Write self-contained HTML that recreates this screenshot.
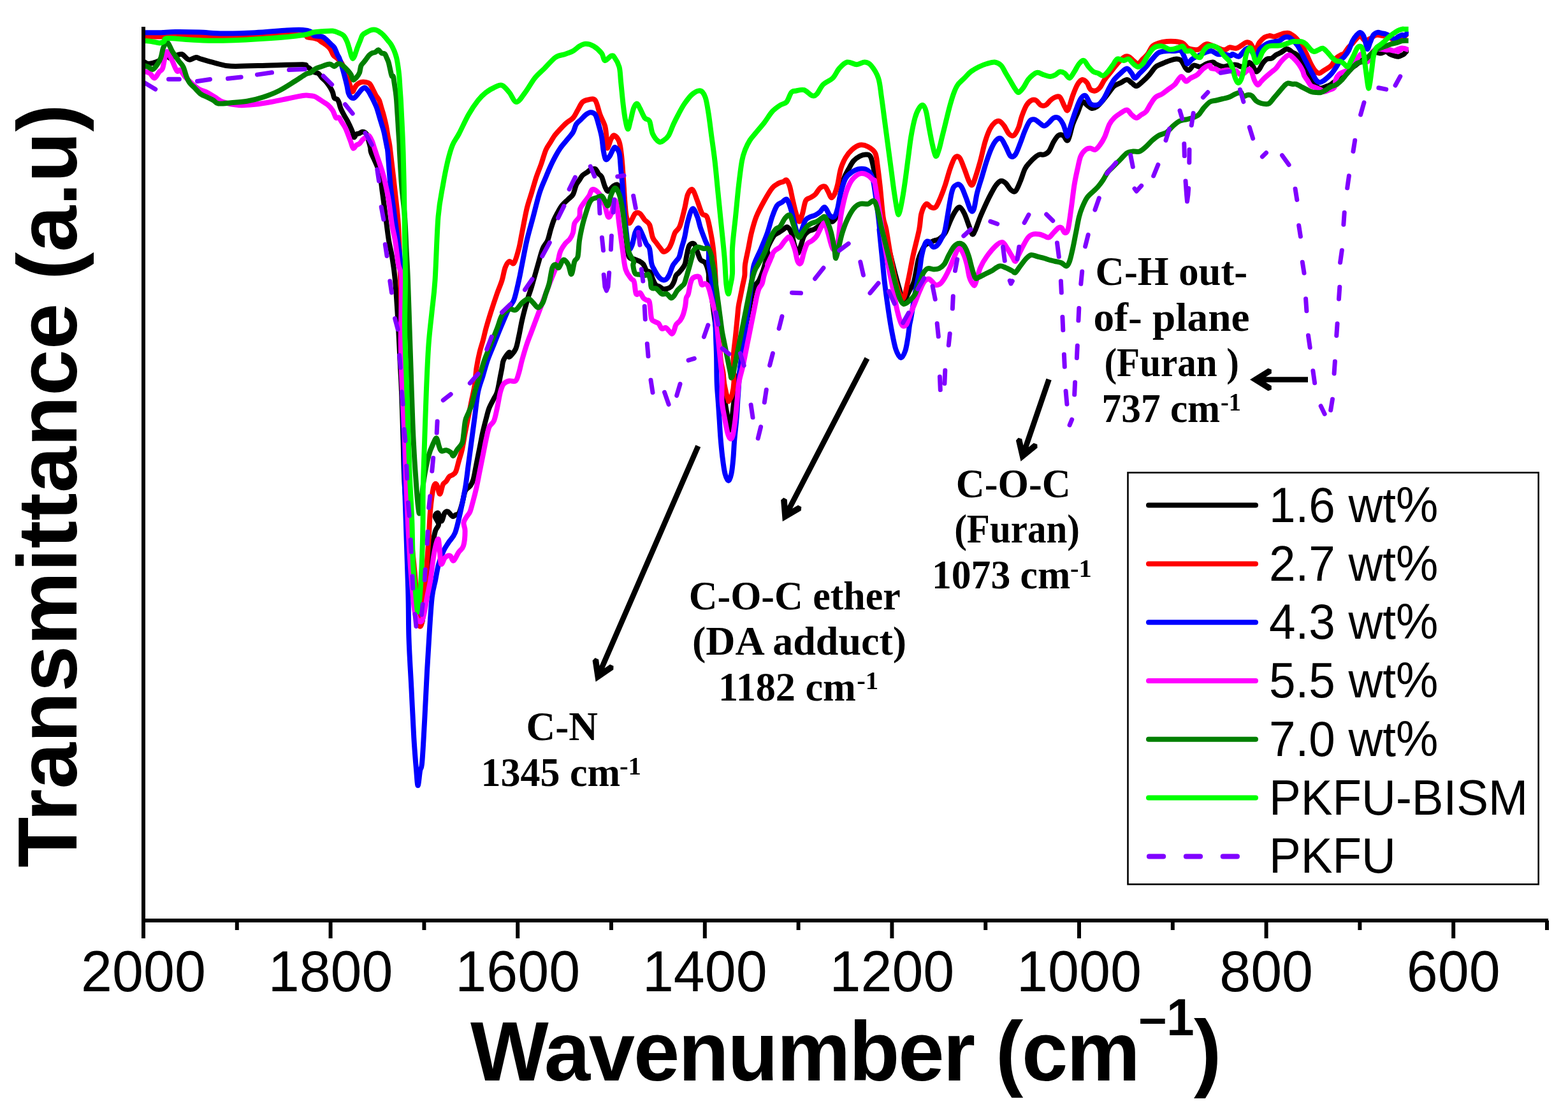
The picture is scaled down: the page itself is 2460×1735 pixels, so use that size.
<!DOCTYPE html>
<html><head><meta charset="utf-8"><title>FTIR spectra</title>
<style>
html,body{margin:0;padding:0;background:#fff;}
svg{display:block;}
.tk{font-family:"Liberation Sans",Arial,sans-serif;font-size:88px;fill:#000;}
.lg{font-family:"Liberation Sans",Arial,sans-serif;font-size:75px;fill:#000;}
.an{font-family:"Liberation Serif","Times New Roman",serif;font-weight:bold;font-size:64px;fill:#000;}
.sup{font-family:"Liberation Serif","Times New Roman",serif;font-weight:bold;font-size:40px;fill:#000;}
.ttl{font-family:"Liberation Sans",Arial,sans-serif;font-weight:bold;font-size:130px;fill:#000;}
</style></head>
<body>
<svg width="2460" height="1735" viewBox="0 0 2460 1735">
<rect width="2460" height="1735" fill="#fff"/>
<defs><clipPath id="pc"><rect x="225" y="0" width="1985" height="1444"/></clipPath></defs>
<g fill="none" stroke-width="8" stroke-linejoin="round" clip-path="url(#pc)">
<path d="M225.0,96.2 C226.2,96.9 230.0,99.6 232.5,100.0 C235.0,100.4 237.1,99.6 240.0,98.8 C242.9,97.9 247.1,96.5 250.0,95.0 C252.9,93.5 255.4,91.0 257.5,90.0 C259.6,89.0 260.8,88.5 262.5,88.8 C264.2,89.0 265.4,91.5 267.5,91.2 C269.6,91.0 272.1,88.5 275.0,87.5 C277.9,86.5 282.1,84.4 285.0,85.0 C287.9,85.6 290.4,89.8 292.5,91.2 C294.6,92.7 295.0,94.0 297.5,93.8 C300.0,93.5 304.6,90.2 307.5,90.0 C310.4,89.8 310.0,91.0 315.0,92.5 C320.0,94.0 329.6,96.9 337.5,98.8 C345.4,100.6 347.9,103.1 362.5,103.8 C377.1,104.4 406.2,102.9 425.0,102.5 C443.8,102.1 465.8,101.0 475.0,101.2 C484.2,101.5 478.3,103.3 480.0,104.2 C481.7,105.1 482.9,105.3 484.9,106.7 C487.0,108.1 489.9,111.4 492.4,112.9 C494.8,114.3 497.7,113.9 499.8,115.4 C501.8,116.8 502.6,119.3 504.7,121.5 C506.8,123.8 509.9,126.3 512.1,128.9 C514.4,131.6 516.6,134.9 518.3,137.6 C519.9,140.3 521.0,142.3 522.0,145.0 C523.0,147.7 523.2,151.8 524.5,153.7 C525.7,155.5 528.2,154.9 529.4,156.1 C530.6,157.4 531.1,158.8 531.9,161.1 C532.7,163.3 533.1,166.6 534.4,169.7 C535.6,172.8 537.6,176.5 539.3,179.6 C540.9,182.7 542.6,185.2 544.2,188.2 C545.9,191.3 547.7,195.0 549.2,198.1 C550.6,201.2 551.9,203.9 552.9,206.8 C553.9,209.7 554.3,214.8 555.4,215.4 C556.4,216.0 557.6,211.5 559.1,210.5 C560.5,209.4 562.4,209.9 564.0,209.2 C565.6,208.6 567.1,206.6 568.9,206.8 C570.8,207.0 573.5,207.8 575.1,210.5 C576.8,213.2 577.8,219.1 578.8,222.8 C579.9,226.5 580.7,229.8 581.3,232.7 C581.9,235.6 580.2,233.8 582.5,240.0 C584.8,246.2 592.1,259.6 595.0,270.0 C597.9,280.4 598.3,290.8 600.0,302.5 C601.7,314.2 603.3,327.5 605.0,340.0 C606.7,352.5 608.3,367.1 610.0,377.5 C611.7,387.9 613.3,392.1 615.0,402.5 C616.7,412.9 618.3,421.2 620.0,440.0 C621.7,458.8 623.8,494.2 625.0,515.0 C626.2,535.8 626.7,548.3 627.5,565.0 C628.3,581.7 629.2,594.2 630.0,615.0 C630.8,635.8 631.7,665.0 632.5,690.0 C633.3,715.0 633.1,736.9 635.0,765.0 C636.9,793.1 641.7,836.8 644.1,858.9 C646.5,881.0 647.3,882.7 649.3,897.8 C651.2,912.9 653.6,936.7 655.7,949.6 C657.9,962.6 659.6,984.2 662.2,975.6 C664.8,966.9 668.7,917.2 671.3,897.8 C673.9,878.3 675.8,869.7 677.8,858.9 C679.7,848.1 681.2,839.0 683.0,833.0 C684.7,826.9 688.2,826.4 688.2,822.6 C688.1,818.8 682.6,812.9 682.5,810.0 C682.4,807.1 685.8,803.8 687.5,805.0 C689.2,806.2 690.8,817.5 692.5,817.5 C694.2,817.5 695.8,807.5 697.5,805.0 C699.2,802.5 700.4,801.7 702.5,802.5 C704.6,803.3 707.9,809.2 710.0,810.0 C712.1,810.8 713.3,808.3 715.0,807.5 C716.7,806.7 718.3,807.9 720.0,805.0 C721.7,802.1 723.3,795.8 725.0,790.0 C726.7,784.2 727.9,774.6 730.0,770.0 C732.1,765.4 735.4,765.4 737.5,762.5 C739.6,759.6 740.8,758.3 742.5,752.5 C744.2,746.7 745.8,735.8 747.5,727.5 C749.2,719.2 750.8,710.8 752.5,702.5 C754.2,694.2 755.8,685.0 757.5,677.5 C759.2,670.0 760.8,663.8 762.5,657.5 C764.2,651.2 765.4,645.4 767.5,640.0 C769.6,634.6 772.9,629.2 775.0,625.0 C777.1,620.8 778.3,620.8 780.0,615.0 C781.7,609.2 783.8,596.2 785.0,590.0 C786.2,583.8 786.7,581.7 787.5,577.5 C788.3,573.3 788.1,569.2 790.0,565.0 C791.9,560.8 797.5,553.3 799.0,552.5 C800.5,551.7 797.3,560.8 799.0,560.0 C800.7,559.2 806.5,552.9 809.0,547.5 C811.5,542.1 812.3,535.0 814.0,527.5 C815.7,520.0 817.3,510.0 819.0,502.5 C820.7,495.0 822.3,488.8 824.0,482.5 C825.7,476.2 827.3,470.4 829.0,465.0 C830.7,459.6 831.5,458.3 834.0,450.0 C836.5,441.7 841.1,425.0 844.0,415.0 C846.9,405.0 849.0,396.2 851.5,390.0 C854.0,383.8 856.9,382.5 859.0,377.5 C861.1,372.5 862.3,365.4 864.0,360.0 C865.7,354.6 867.3,349.2 869.0,345.0 C870.7,340.8 871.9,338.8 874.0,335.0 C876.1,331.2 878.6,326.2 881.5,322.5 C884.4,318.8 888.6,315.4 891.5,312.5 C894.4,309.6 896.9,308.8 899.0,305.0 C901.1,301.2 902.3,293.8 904.0,290.0 C905.7,286.2 907.3,285.0 909.0,282.5 C910.7,280.0 911.9,277.1 914.0,275.0 C916.1,272.9 919.4,271.5 921.5,270.0 C923.6,268.5 924.4,267.1 926.5,266.2 C928.6,265.4 931.9,264.0 934.0,265.0 C936.1,266.0 937.3,270.4 939.0,272.5 C940.7,274.6 942.3,274.2 944.0,277.5 C945.7,280.8 947.3,288.8 949.0,292.5 C950.7,296.2 951.9,300.0 954.0,300.0 C956.1,300.0 959.0,294.2 961.5,292.5 C964.0,290.8 966.9,288.3 969.0,290.0 C971.1,291.7 972.3,294.2 974.0,302.5 C975.7,310.8 977.5,327.5 979.0,340.0 C980.5,352.5 981.5,367.1 982.8,377.5 C984.0,387.9 984.5,397.7 986.5,402.5 C988.5,407.3 992.1,405.2 994.8,406.4 C997.5,407.6 1000.4,408.3 1002.8,409.6 C1005.3,411.0 1007.4,412.0 1009.3,414.5 C1011.1,416.9 1012.2,421.9 1014.1,424.1 C1016.0,426.2 1018.9,425.2 1020.5,427.3 C1022.1,429.4 1022.4,433.7 1023.7,436.9 C1025.1,440.1 1026.7,444.4 1028.5,446.6 C1030.4,448.7 1033.1,448.7 1035.0,449.8 C1036.8,450.9 1037.9,452.5 1039.8,453.0 C1041.7,453.5 1044.1,453.5 1046.2,453.0 C1048.3,452.5 1050.8,451.7 1052.6,449.8 C1054.5,447.9 1056.1,444.7 1057.4,441.8 C1058.8,438.8 1059.3,434.5 1060.7,432.1 C1062.0,429.7 1063.6,429.4 1065.5,427.3 C1067.4,425.2 1070.3,421.7 1071.9,419.3 C1073.5,416.9 1074.2,416.1 1075.1,412.8 C1076.0,409.6 1076.5,404.6 1077.5,400.0 C1078.6,395.4 1079.6,387.9 1081.5,385.0 C1083.4,382.1 1086.9,380.8 1089.0,382.5 C1091.1,384.2 1092.3,390.8 1094.0,395.0 C1095.7,399.2 1096.9,404.6 1099.0,407.5 C1101.1,410.4 1104.4,409.2 1106.5,412.5 C1108.6,415.8 1110.6,422.9 1111.5,427.5 C1112.4,432.1 1111.4,435.4 1112.0,440.1 C1112.7,444.9 1114.2,449.5 1115.3,456.2 C1116.3,462.9 1117.4,472.3 1118.5,480.3 C1119.5,488.3 1120.6,496.4 1121.7,504.4 C1122.8,512.4 1123.8,520.4 1124.9,528.5 C1126.0,536.5 1127.0,545.1 1128.1,552.6 C1129.2,560.1 1130.2,567.3 1131.3,573.4 C1132.4,579.6 1133.5,580.1 1134.5,589.5 C1135.6,598.9 1136.4,618.8 1137.5,629.6 C1138.7,640.5 1140.2,646.9 1141.5,654.3 C1142.8,661.8 1143.8,678.2 1145.5,674.1 C1147.1,670.0 1150.0,642.0 1151.4,629.6 C1152.8,617.3 1152.4,607.5 1153.9,600.0 C1155.3,592.5 1158.6,591.2 1160.2,584.7 C1161.8,578.1 1162.4,568.6 1163.4,560.6 C1164.5,552.6 1165.6,544.5 1166.7,536.5 C1167.7,528.5 1168.5,520.4 1169.9,512.4 C1171.2,504.4 1173.1,496.4 1174.7,488.3 C1176.3,480.3 1177.9,470.9 1179.5,464.2 C1181.1,457.5 1182.4,452.2 1184.3,448.2 C1186.2,444.2 1188.6,444.2 1190.7,440.1 C1192.9,436.1 1195.3,429.4 1197.2,424.1 C1199.0,418.7 1200.6,412.0 1202.0,408.0 C1203.3,404.0 1204.9,403.0 1205.2,400.0 C1205.5,397.0 1202.5,395.0 1204.0,390.0 C1205.5,385.0 1211.1,374.2 1214.0,370.0 C1216.9,365.8 1219.0,366.7 1221.5,365.0 C1224.0,363.3 1226.7,361.5 1229.0,360.0 C1231.3,358.5 1233.2,355.4 1235.2,356.2 C1237.3,357.1 1239.6,360.2 1241.5,365.0 C1243.4,369.8 1244.8,379.6 1246.5,385.0 C1248.2,390.4 1249.8,397.5 1251.5,397.5 C1253.2,397.5 1254.8,389.6 1256.5,385.0 C1258.2,380.4 1259.4,373.8 1261.5,370.0 C1263.6,366.2 1266.5,364.2 1269.0,362.5 C1271.5,360.8 1274.0,361.2 1276.5,360.0 C1279.0,358.8 1281.5,356.7 1284.0,355.0 C1286.5,353.3 1289.0,351.7 1291.5,350.0 C1294.0,348.3 1296.5,345.4 1299.0,345.0 C1301.5,344.6 1304.0,349.2 1306.5,347.5 C1309.0,345.8 1311.9,342.5 1314.0,335.0 C1316.1,327.5 1317.3,311.7 1319.0,302.5 C1320.7,293.3 1321.9,286.2 1324.0,280.0 C1326.1,273.8 1329.0,269.6 1331.5,265.0 C1334.0,260.4 1336.1,255.8 1339.0,252.5 C1341.9,249.2 1345.7,246.7 1349.0,245.0 C1352.3,243.3 1356.1,242.1 1359.0,242.5 C1361.9,242.9 1364.2,241.7 1366.5,247.5 C1368.8,253.3 1371.1,266.2 1373.0,277.5 C1374.9,288.8 1375.1,299.0 1378.0,315.0 C1380.9,331.0 1387.2,359.3 1390.4,373.6 C1393.6,387.9 1394.9,391.7 1397.2,400.8 C1399.5,409.8 1401.7,419.4 1404.0,428.0 C1406.3,436.6 1408.5,445.2 1410.8,452.4 C1413.0,459.7 1414.9,471.0 1417.6,471.5 C1420.3,471.9 1424.4,460.1 1427.1,455.2 C1429.8,450.2 1431.6,449.5 1433.9,441.6 C1436.2,433.6 1438.7,415.5 1440.7,407.6 C1442.7,399.7 1444.3,397.8 1446.1,394.0 C1447.9,390.1 1448.4,387.2 1451.6,384.5 C1454.7,381.8 1461.5,379.3 1465.2,377.7 C1468.8,376.1 1470.4,377.0 1473.3,375.0 C1476.3,372.9 1480.0,370.0 1482.8,365.4 C1485.7,360.9 1488.0,353.0 1490.5,347.5 C1493.0,342.0 1495.5,336.2 1498.0,332.5 C1500.5,328.8 1503.0,324.6 1505.5,325.0 C1508.0,325.4 1510.5,330.0 1513.0,335.0 C1515.5,340.0 1518.4,349.6 1520.5,355.0 C1522.6,360.4 1523.8,366.7 1525.5,367.5 C1527.2,368.3 1528.4,364.6 1530.5,360.0 C1532.6,355.4 1535.1,347.1 1538.0,340.0 C1540.9,332.9 1545.1,323.8 1548.0,317.5 C1550.9,311.2 1553.0,307.1 1555.5,302.5 C1558.0,297.9 1560.5,293.1 1563.0,290.0 C1565.5,286.9 1568.0,284.2 1570.5,283.8 C1573.0,283.3 1575.5,285.2 1578.0,287.5 C1580.5,289.8 1583.0,295.4 1585.5,297.5 C1588.0,299.6 1590.5,302.1 1593.0,300.0 C1595.5,297.9 1598.0,290.8 1600.5,285.0 C1603.0,279.2 1605.5,270.0 1608.0,265.0 C1610.5,260.0 1613.0,257.9 1615.5,255.0 C1618.0,252.1 1620.5,249.6 1623.0,247.5 C1625.5,245.4 1628.0,243.3 1630.5,242.5 C1633.0,241.7 1635.5,243.3 1638.0,242.5 C1640.5,241.7 1643.0,240.8 1645.5,237.5 C1648.0,234.2 1650.5,226.7 1653.0,222.5 C1655.5,218.3 1658.0,214.2 1660.5,212.5 C1663.0,210.8 1665.5,211.2 1668.0,212.5 C1670.5,213.8 1673.0,222.9 1675.5,220.0 C1678.0,217.1 1680.5,202.1 1683.0,195.0 C1685.5,187.9 1688.0,183.3 1690.5,177.5 C1693.0,171.7 1695.5,162.1 1698.0,160.0 C1700.5,157.9 1703.0,163.3 1705.5,165.0 C1708.0,166.7 1710.5,169.6 1713.0,170.0 C1715.5,170.4 1718.0,169.2 1720.5,167.5 C1723.0,165.8 1725.1,163.3 1728.0,160.0 C1730.9,156.7 1734.7,151.7 1738.0,147.5 C1741.3,143.3 1744.7,137.9 1748.0,135.0 C1751.3,132.1 1754.7,131.7 1758.0,130.0 C1761.3,128.3 1765.1,125.0 1768.0,125.0 C1770.9,125.0 1773.0,128.3 1775.5,130.0 C1778.0,131.7 1780.1,135.4 1783.0,135.0 C1785.9,134.6 1789.7,130.4 1793.0,127.5 C1796.3,124.6 1799.7,121.2 1803.0,117.5 C1806.3,113.8 1809.7,107.9 1813.0,105.0 C1816.3,102.1 1819.2,101.7 1823.0,100.0 C1826.8,98.3 1831.8,96.2 1835.5,95.0 C1839.2,93.8 1842.6,92.5 1845.5,92.5 C1848.4,92.5 1850.5,92.5 1853.0,95.0 C1855.5,97.5 1858.4,105.0 1860.5,107.5 C1862.6,110.0 1863.4,110.8 1865.5,110.0 C1867.6,109.2 1870.1,103.3 1873.0,102.5 C1875.9,101.7 1879.7,105.4 1883.0,105.0 C1886.3,104.6 1889.7,101.2 1893.0,100.0 C1896.3,98.8 1900.5,97.4 1903.0,97.5 C1905.5,97.6 1905.3,99.4 1907.8,100.6 C1910.4,101.7 1915.2,104.0 1918.3,104.5 C1921.3,104.9 1923.7,103.6 1926.1,103.2 C1928.5,102.7 1930.3,102.1 1932.7,101.9 C1935.1,101.6 1938.1,101.4 1940.5,101.9 C1942.9,102.3 1944.6,104.3 1947.0,104.5 C1949.4,104.7 1952.7,104.3 1954.9,103.2 C1957.1,102.1 1958.4,97.9 1960.1,97.9 C1961.8,97.9 1963.6,100.8 1965.3,103.2 C1967.1,105.6 1968.8,111.4 1970.6,112.3 C1972.3,113.2 1974.0,110.6 1975.8,108.4 C1977.5,106.2 1979.1,101.9 1981.0,99.3 C1983.0,96.6 1985.2,94.0 1987.5,92.7 C1989.9,91.4 1993.0,92.5 1995.4,91.4 C1997.8,90.3 1999.5,87.7 2001.9,86.2 C2004.3,84.7 2007.1,83.8 2009.8,82.3 C2012.4,80.7 2015.4,77.7 2017.6,77.0 C2019.8,76.4 2021.1,77.5 2022.8,78.3 C2024.6,79.2 2026.3,81.2 2028.1,82.3 C2029.8,83.4 2031.5,83.6 2033.3,84.9 C2035.0,86.2 2036.8,87.7 2038.5,90.1 C2040.3,92.5 2042.0,96.0 2043.7,99.3 C2045.5,102.5 2047.2,106.4 2049.0,109.7 C2050.7,113.0 2052.2,115.6 2054.2,118.9 C2056.1,122.1 2058.8,126.5 2060.7,129.3 C2062.7,132.1 2064.0,134.3 2065.9,135.8 C2067.9,137.4 2070.1,138.5 2072.5,138.5 C2074.9,138.5 2077.9,136.7 2080.3,135.8 C2082.7,135.0 2084.9,134.3 2086.9,133.2 C2088.8,132.1 2090.1,130.8 2092.1,129.3 C2094.0,127.8 2096.4,125.8 2098.6,124.1 C2100.8,122.3 2103.0,120.2 2105.1,118.9 C2107.3,117.5 2109.7,117.5 2111.7,116.2 C2113.6,114.9 2115.2,112.8 2116.9,111.0 C2118.7,109.3 2120.4,107.3 2122.1,105.8 C2123.9,104.3 2125.6,103.2 2127.4,101.9 C2129.1,100.6 2130.8,99.3 2132.6,97.9 C2134.3,96.6 2136.1,94.9 2137.8,94.0 C2139.6,93.2 2141.3,93.4 2143.0,92.7 C2144.8,92.1 2146.5,91.2 2148.3,90.1 C2150.0,89.0 2151.8,87.5 2153.5,86.2 C2155.2,84.9 2156.5,82.7 2158.7,82.3 C2160.9,81.8 2163.9,83.8 2166.6,83.6 C2169.2,83.4 2172.0,80.7 2174.4,81.0 C2176.8,81.2 2178.8,83.8 2180.9,84.9 C2183.1,86.0 2185.3,86.8 2187.5,87.5 C2189.6,88.1 2191.9,89.0 2194.0,88.8 C2196.1,88.6 2198.6,86.8 2200.0,86.2 C2201.4,85.5 2200.9,86.4 2202.5,84.9 C2204.2,83.4 2208.5,78.3 2209.7,77.0" stroke="#000000"/>
<path d="M225.0,57.5 C231.2,57.5 245.8,57.6 262.5,57.5 C279.2,57.4 302.1,57.3 325.0,57.0 C347.9,56.7 375.0,55.8 400.0,55.5 C425.0,55.2 461.3,54.5 475.0,55.0 C488.7,55.5 479.6,57.7 482.5,58.5 C485.4,59.3 489.5,59.1 492.4,59.8 C495.2,60.4 497.7,61.2 499.8,62.2 C501.8,63.3 502.6,64.5 504.7,65.9 C506.8,67.4 509.9,69.0 512.1,70.9 C514.4,72.7 516.4,74.4 518.3,77.1 C520.1,79.7 521.4,84.5 523.2,86.9 C525.1,89.4 527.4,90.0 529.4,91.9 C531.5,93.7 533.7,95.2 535.6,98.1 C537.4,100.9 538.9,105.3 540.5,109.2 C542.2,113.1 544.0,117.4 545.5,121.5 C546.9,125.6 547.9,130.2 549.2,133.9 C550.4,137.6 551.6,143.2 552.9,143.8 C554.1,144.4 555.4,139.4 556.6,137.6 C557.8,135.7 558.6,134.1 560.3,132.6 C561.9,131.2 564.2,129.6 566.5,128.9 C568.7,128.3 571.6,128.5 573.9,128.9 C576.1,129.4 578.2,129.6 580.1,131.4 C581.9,133.3 583.4,137.0 585.0,140.1 C586.7,143.2 588.3,147.1 589.9,149.9 C591.6,152.8 593.4,154.1 594.9,157.4 C596.3,160.7 597.4,165.6 598.6,169.7 C599.8,173.8 601.1,177.3 602.3,182.1 C603.5,186.8 605.0,193.0 606.0,198.1 C607.0,203.3 607.7,208.4 608.5,212.9 C609.3,217.5 610.2,220.8 610.9,225.3 C611.7,229.8 611.3,227.1 612.8,240.0 C614.3,252.9 618.0,283.8 620.0,302.5 C622.0,321.2 623.8,333.8 625.0,352.5 C626.2,371.2 626.5,383.8 627.5,415.0 C628.5,446.2 630.4,506.7 631.2,540.0 C632.1,573.3 631.9,590.0 632.5,615.0 C633.1,640.0 634.2,665.0 635.0,690.0 C635.8,715.0 635.8,739.0 637.5,765.0 C639.2,791.0 643.2,823.8 645.4,845.9 C647.5,868.1 648.8,878.3 650.6,897.8 C652.3,917.2 654.4,948.6 655.7,962.6 C657.0,976.6 657.3,979.9 658.3,982.0 C659.4,984.2 661.1,981.0 662.2,975.6 C663.3,970.2 663.7,962.6 664.8,949.6 C665.9,936.7 667.4,915.1 668.7,897.8 C670.0,880.5 671.5,861.8 672.6,845.9 C673.6,830.0 673.8,816.0 675.0,802.5 C676.2,789.0 678.3,772.1 680.0,765.0 C681.7,757.9 683.3,758.3 685.0,760.0 C686.7,761.7 688.3,775.0 690.0,775.0 C691.7,775.0 693.3,763.3 695.0,760.0 C696.7,756.7 698.3,757.1 700.0,755.0 C701.7,752.9 703.3,749.2 705.0,747.5 C706.7,745.8 708.3,746.2 710.0,745.0 C711.7,743.8 713.3,743.8 715.0,740.0 C716.7,736.2 718.3,728.3 720.0,722.5 C721.7,716.7 723.3,712.5 725.0,705.0 C726.7,697.5 728.3,686.2 730.0,677.5 C731.7,668.8 733.3,660.8 735.0,652.5 C736.7,644.2 738.3,635.8 740.0,627.5 C741.7,619.2 743.8,610.8 745.0,602.5 C746.2,594.2 746.2,585.8 747.5,577.5 C748.8,569.2 750.8,559.6 752.5,552.5 C754.2,545.4 755.8,541.2 757.5,535.0 C759.2,528.8 760.4,522.5 762.5,515.0 C764.6,507.5 767.1,499.2 770.0,490.0 C772.9,480.8 777.1,468.3 780.0,460.0 C782.9,451.7 785.4,446.7 787.5,440.0 C789.6,433.3 790.6,425.0 792.5,420.0 C794.4,415.0 796.7,411.2 799.0,410.0 C801.3,408.8 804.0,415.8 806.5,412.5 C809.0,409.2 811.9,397.9 814.0,390.0 C816.1,382.1 816.9,375.4 819.0,365.0 C821.1,354.6 824.0,337.9 826.5,327.5 C829.0,317.1 831.5,310.8 834.0,302.5 C836.5,294.2 839.0,285.0 841.5,277.5 C844.0,270.0 846.5,264.6 849.0,257.5 C851.5,250.4 854.0,240.8 856.5,235.0 C859.0,229.2 861.7,226.2 864.0,222.5 C866.3,218.8 867.8,215.8 870.2,212.5 C872.8,209.2 875.9,205.8 879.0,202.5 C882.1,199.2 885.7,195.4 889.0,192.5 C892.3,189.6 896.1,188.3 899.0,185.0 C901.9,181.7 904.0,176.7 906.5,172.5 C909.0,168.3 911.1,162.7 914.0,160.0 C916.9,157.3 920.7,156.7 924.0,156.2 C927.3,155.8 931.1,153.5 934.0,157.5 C936.9,161.5 939.0,173.3 941.5,180.0 C944.0,186.7 947.3,191.7 949.0,197.5 C950.7,203.3 950.9,209.2 951.5,215.0 C952.1,220.8 951.5,232.1 952.8,232.5 C954.0,232.9 957.1,220.8 959.0,217.5 C960.9,214.2 961.9,211.7 964.0,212.5 C966.1,213.3 969.6,217.1 971.5,222.5 C973.4,227.9 974.2,235.8 975.2,245.0 C976.3,254.2 976.9,265.8 977.8,277.5 C978.6,289.2 979.4,304.6 980.2,315.0 C981.1,325.4 981.5,334.2 982.8,340.0 C984.0,345.8 985.5,350.8 987.8,350.0 C990.0,349.2 993.8,337.5 996.5,335.0 C999.2,332.5 1001.5,333.3 1004.0,335.0 C1006.5,336.7 1009.0,342.1 1011.5,345.0 C1014.0,347.9 1016.9,347.9 1019.0,352.5 C1021.1,357.1 1022.3,367.9 1024.0,372.5 C1025.7,377.1 1026.9,377.1 1029.0,380.0 C1031.1,382.9 1034.4,387.5 1036.5,390.0 C1038.6,392.5 1039.4,395.0 1041.5,395.0 C1043.6,395.0 1046.9,392.5 1049.0,390.0 C1051.1,387.5 1052.3,384.2 1054.0,380.0 C1055.7,375.8 1056.9,369.2 1059.0,365.0 C1061.1,360.8 1064.0,361.2 1066.5,355.0 C1069.0,348.8 1071.9,335.8 1074.0,327.5 C1076.1,319.2 1076.9,310.0 1079.0,305.0 C1081.1,300.0 1084.0,295.8 1086.5,297.5 C1089.0,299.2 1091.5,308.8 1094.0,315.0 C1096.5,321.2 1099.0,330.8 1101.5,335.0 C1104.0,339.2 1106.9,335.8 1109.0,340.0 C1111.1,344.2 1112.3,351.7 1114.0,360.0 C1115.7,368.3 1117.5,376.7 1119.0,390.0 C1120.5,403.3 1122.0,423.6 1122.8,440.0 C1123.5,456.4 1122.9,477.6 1123.3,488.3 C1123.6,499.1 1124.4,499.0 1124.9,504.4 C1125.4,509.7 1126.0,515.1 1126.5,520.4 C1127.0,525.8 1127.6,531.1 1128.1,536.5 C1128.6,541.9 1129.2,547.2 1129.7,552.6 C1130.2,557.9 1130.5,563.3 1131.3,568.6 C1132.1,574.0 1133.7,579.3 1134.5,584.7 C1135.3,590.0 1135.3,595.4 1136.1,600.7 C1136.9,606.1 1138.3,612.2 1139.3,616.8 C1140.4,621.3 1141.9,626.1 1142.6,628.0 C1143.2,630.0 1142.5,630.0 1143.5,628.7 C1144.5,627.3 1147.1,624.5 1148.4,619.8 C1149.7,615.0 1151.0,609.9 1151.4,600.0 C1151.7,590.1 1150.2,572.5 1150.6,560.6 C1151.0,548.7 1152.7,539.2 1153.8,528.5 C1154.9,517.8 1156.2,504.4 1157.0,496.4 C1157.8,488.3 1157.8,485.6 1158.6,480.3 C1159.4,474.9 1160.8,469.6 1161.8,464.2 C1162.9,458.9 1164.0,453.5 1165.0,448.2 C1166.1,442.8 1167.6,437.6 1168.3,432.1 C1168.9,426.6 1168.0,422.0 1169.0,415.0 C1170.0,408.0 1172.3,398.3 1174.0,390.0 C1175.7,381.7 1176.9,373.3 1179.0,365.0 C1181.1,356.7 1183.2,348.3 1186.5,340.0 C1189.8,331.7 1194.8,322.5 1199.0,315.0 C1203.2,307.5 1207.8,299.6 1211.5,295.0 C1215.2,290.4 1218.6,289.2 1221.5,287.5 C1224.4,285.8 1226.9,285.8 1229.0,285.0 C1231.1,284.2 1232.3,281.2 1234.0,282.5 C1235.7,283.8 1237.3,287.1 1239.0,292.5 C1240.7,297.9 1242.3,307.9 1244.0,315.0 C1245.7,322.1 1247.3,329.6 1249.0,335.0 C1250.7,340.4 1252.3,347.5 1254.0,347.5 C1255.7,347.5 1257.3,340.4 1259.0,335.0 C1260.7,329.6 1261.9,319.2 1264.0,315.0 C1266.1,310.8 1269.0,311.7 1271.5,310.0 C1274.0,308.3 1276.5,307.5 1279.0,305.0 C1281.5,302.5 1284.0,297.1 1286.5,295.0 C1289.0,292.9 1291.9,291.7 1294.0,292.5 C1296.1,293.3 1297.3,297.1 1299.0,300.0 C1300.7,302.9 1302.3,309.2 1304.0,310.0 C1305.7,310.8 1307.3,308.3 1309.0,305.0 C1310.7,301.7 1312.3,296.7 1314.0,290.0 C1315.7,283.3 1316.9,272.1 1319.0,265.0 C1321.1,257.9 1323.6,252.5 1326.5,247.5 C1329.4,242.5 1332.8,238.3 1336.5,235.0 C1340.2,231.7 1344.8,228.3 1349.0,227.5 C1353.2,226.7 1357.5,227.9 1361.5,230.0 C1365.5,232.1 1370.5,235.0 1373.0,240.0 C1375.5,245.0 1375.5,251.7 1376.8,260.0 C1378.0,268.3 1379.0,276.7 1380.5,290.0 C1382.0,303.3 1383.9,328.3 1385.5,340.0 C1387.1,351.7 1388.4,349.9 1390.4,360.0 C1392.3,370.1 1394.7,387.2 1397.2,400.8 C1399.7,414.4 1402.2,430.2 1405.3,441.6 C1408.5,452.9 1413.0,468.8 1416.2,468.8 C1419.4,468.8 1421.7,452.9 1424.4,441.6 C1427.1,430.2 1429.6,414.4 1432.5,400.8 C1435.5,387.2 1439.9,371.0 1442.1,360.0 C1444.2,349.0 1443.7,341.7 1445.5,335.0 C1447.3,328.3 1450.5,321.7 1453.0,320.0 C1455.5,318.3 1458.0,324.2 1460.5,325.0 C1463.0,325.8 1465.5,327.5 1468.0,325.0 C1470.5,322.5 1473.0,315.8 1475.5,310.0 C1478.0,304.2 1480.5,297.5 1483.0,290.0 C1485.5,282.5 1488.0,272.1 1490.5,265.0 C1493.0,257.9 1495.5,250.4 1498.0,247.5 C1500.5,244.6 1503.0,244.6 1505.5,247.5 C1508.0,250.4 1510.5,258.8 1513.0,265.0 C1515.5,271.2 1518.4,280.8 1520.5,285.0 C1522.6,289.2 1523.8,291.2 1525.5,290.0 C1527.2,288.8 1528.4,283.8 1530.5,277.5 C1532.6,271.2 1535.5,261.7 1538.0,252.5 C1540.5,243.3 1543.0,230.8 1545.5,222.5 C1548.0,214.2 1550.5,207.5 1553.0,202.5 C1555.5,197.5 1558.0,194.6 1560.5,192.5 C1563.0,190.4 1565.5,189.2 1568.0,190.0 C1570.5,190.8 1573.0,194.2 1575.5,197.5 C1578.0,200.8 1580.5,207.5 1583.0,210.0 C1585.5,212.5 1588.0,214.2 1590.5,212.5 C1593.0,210.8 1595.9,205.0 1598.0,200.0 C1600.1,195.0 1600.9,188.3 1603.0,182.5 C1605.1,176.7 1608.0,169.2 1610.5,165.0 C1613.0,160.8 1615.5,158.8 1618.0,157.5 C1620.5,156.2 1623.0,156.2 1625.5,157.5 C1628.0,158.8 1630.5,163.8 1633.0,165.0 C1635.5,166.2 1638.0,166.2 1640.5,165.0 C1643.0,163.8 1645.5,159.6 1648.0,157.5 C1650.5,155.4 1653.0,153.3 1655.5,152.5 C1658.0,151.7 1660.5,150.0 1663.0,152.5 C1665.5,155.0 1668.4,164.2 1670.5,167.5 C1672.6,170.8 1673.4,175.4 1675.5,172.5 C1677.6,169.6 1680.5,156.7 1683.0,150.0 C1685.5,143.3 1688.0,136.7 1690.5,132.5 C1693.0,128.3 1695.5,125.4 1698.0,125.0 C1700.5,124.6 1703.4,127.5 1705.5,130.0 C1707.6,132.5 1708.4,137.9 1710.5,140.0 C1712.6,142.1 1715.5,142.9 1718.0,142.5 C1720.5,142.1 1723.0,140.4 1725.5,137.5 C1728.0,134.6 1730.1,129.2 1733.0,125.0 C1735.9,120.8 1739.7,116.7 1743.0,112.5 C1746.3,108.3 1749.7,103.8 1753.0,100.0 C1756.3,96.2 1760.1,91.9 1763.0,90.0 C1765.9,88.1 1768.0,87.9 1770.5,88.8 C1773.0,89.6 1775.5,93.1 1778.0,95.0 C1780.5,96.9 1783.0,100.4 1785.5,100.0 C1788.0,99.6 1790.5,95.0 1793.0,92.5 C1795.5,90.0 1798.0,88.3 1800.5,85.0 C1803.0,81.7 1805.1,75.4 1808.0,72.5 C1810.9,69.6 1814.2,68.8 1818.0,67.5 C1821.8,66.2 1826.3,65.4 1830.5,65.0 C1834.7,64.6 1838.8,64.6 1843.0,65.0 C1847.2,65.4 1852.2,65.8 1855.5,67.5 C1858.8,69.2 1860.5,73.3 1863.0,75.0 C1865.5,76.7 1867.6,77.1 1870.5,77.5 C1873.4,77.9 1877.2,78.8 1880.5,77.5 C1883.8,76.2 1887.6,71.2 1890.5,70.0 C1893.4,68.8 1893.1,68.6 1898.0,70.0 C1902.9,71.4 1914.5,77.6 1919.6,78.3 C1924.7,79.1 1925.5,74.9 1928.7,74.4 C1932.0,74.0 1936.2,76.2 1939.2,75.7 C1942.2,75.3 1944.4,73.3 1947.0,71.8 C1949.7,70.3 1952.5,67.2 1954.9,66.6 C1957.3,65.9 1959.0,65.9 1961.4,67.9 C1963.8,69.9 1966.9,78.6 1969.3,78.3 C1971.6,78.1 1973.4,69.9 1975.8,66.6 C1978.2,63.3 1981.0,60.5 1983.6,58.7 C1986.2,57.0 1988.9,56.4 1991.5,56.1 C1994.1,55.9 1996.7,57.7 1999.3,57.4 C2001.9,57.2 2004.5,55.7 2007.1,54.8 C2009.8,54.0 2012.4,52.6 2015.0,52.2 C2017.6,51.8 2020.2,51.3 2022.8,52.2 C2025.4,53.1 2028.3,55.5 2030.7,57.4 C2033.1,59.4 2035.0,61.4 2037.2,64.0 C2039.4,66.6 2041.6,69.4 2043.7,73.1 C2045.9,76.8 2048.1,81.6 2050.3,86.2 C2052.4,90.8 2054.6,96.4 2056.8,100.6 C2059.0,104.7 2061.2,108.6 2063.3,111.0 C2065.5,113.4 2067.7,114.9 2069.9,114.9 C2072.0,114.9 2074.2,112.3 2076.4,111.0 C2078.6,109.7 2080.8,108.6 2082.9,107.1 C2085.1,105.6 2087.3,104.5 2089.5,101.9 C2091.6,99.3 2093.6,94.0 2096.0,91.4 C2098.4,88.8 2101.7,87.5 2103.8,86.2 C2106.0,84.9 2107.1,85.5 2109.1,83.6 C2111.0,81.6 2113.4,77.0 2115.6,74.4 C2117.8,71.8 2120.0,70.3 2122.1,67.9 C2124.3,65.5 2126.7,62.0 2128.7,60.1 C2130.6,58.1 2132.4,56.1 2133.9,56.1 C2135.4,56.1 2136.5,58.7 2137.8,60.1 C2139.1,61.4 2140.4,63.5 2141.7,64.0 C2143.0,64.4 2144.1,63.3 2145.7,62.7 C2147.2,62.0 2149.1,61.1 2150.9,60.1 C2152.6,59.0 2154.4,57.0 2156.1,56.1 C2157.9,55.3 2159.2,54.8 2161.3,54.8 C2163.5,54.8 2166.6,55.7 2169.2,56.1 C2171.8,56.6 2174.4,56.6 2177.0,57.4 C2179.6,58.3 2182.2,60.5 2184.9,61.4 C2187.5,62.2 2190.2,62.4 2192.7,62.7 C2195.2,62.9 2201.2,62.6 2200.0,62.7 C2198.8,62.8 2186.2,63.1 2185.5,63.3 C2184.9,63.5 2192.0,66.0 2196.0,64.0 C2200.0,61.9 2207.4,53.1 2209.7,50.9" stroke="#ff0000"/>
<path d="M225.0,51.2 C229.2,51.2 241.7,51.5 250.0,51.2 C258.3,51.0 264.6,50.1 275.0,50.0 C285.4,49.9 300.0,50.1 312.5,50.5 C325.0,50.9 335.4,52.4 350.0,52.5 C364.6,52.6 383.3,52.1 400.0,51.2 C416.7,50.4 437.5,48.2 450.0,47.5 C462.5,46.8 468.8,46.6 475.0,47.0 C481.2,47.4 484.5,48.2 487.4,49.6 C490.3,51.1 489.5,54.5 492.4,55.8 C495.2,57.1 501.4,56.2 504.7,57.3 C508.0,58.4 509.6,60.2 512.1,62.2 C514.6,64.3 517.5,67.6 519.5,69.6 C521.6,71.7 522.8,71.9 524.5,74.6 C526.1,77.3 528.0,82.6 529.4,85.7 C530.9,88.8 531.9,89.8 533.1,93.1 C534.4,96.4 535.6,101.1 536.8,105.5 C538.1,109.8 539.3,114.3 540.5,119.1 C541.8,123.8 543.2,129.4 544.2,133.9 C545.3,138.4 545.7,143.2 546.7,146.2 C547.7,149.3 549.0,151.2 550.4,152.4 C551.9,153.7 553.5,154.5 555.4,153.7 C557.2,152.8 559.5,149.7 561.5,147.5 C563.6,145.2 565.9,141.7 567.7,140.1 C569.6,138.4 571.0,137.2 572.6,137.6 C574.3,138.0 575.9,140.3 577.6,142.5 C579.2,144.8 580.9,148.1 582.5,151.2 C584.2,154.3 586.0,158.0 587.5,161.1 C588.9,164.2 589.9,166.2 591.2,169.7 C592.4,173.2 593.7,177.9 594.9,182.1 C596.1,186.2 597.4,190.3 598.6,194.4 C599.8,198.5 601.3,202.7 602.3,206.8 C603.3,210.9 603.9,215.0 604.8,219.1 C605.6,223.2 606.6,228.0 607.2,231.5 C607.9,235.0 607.6,230.2 608.5,240.0 C609.4,249.8 611.0,275.4 612.5,290.0 C614.0,304.6 615.8,315.0 617.5,327.5 C619.2,340.0 620.8,352.5 622.5,365.0 C624.2,377.5 626.2,390.0 627.5,402.5 C628.8,415.0 629.6,417.1 630.0,440.0 C630.4,462.9 629.8,510.8 630.0,540.0 C630.2,569.2 630.6,590.0 631.2,615.0 C631.9,640.0 633.1,665.0 633.8,690.0 C634.4,715.0 633.9,726.0 635.0,765.0 C636.1,804.0 639.1,884.3 640.2,923.7 C641.3,963.1 640.6,975.6 641.5,1001.5 C642.3,1027.4 644.1,1053.3 645.4,1079.3 C646.7,1105.2 648.0,1135.4 649.3,1157.0 C650.6,1178.7 652.1,1196.4 653.2,1208.9 C654.2,1221.4 654.7,1232.2 655.7,1232.2 C656.7,1232.2 658.0,1215.0 659.1,1208.9 C660.2,1202.9 661.1,1208.9 662.2,1195.9 C663.4,1183.0 664.8,1154.9 666.1,1131.1 C667.4,1107.4 668.7,1077.1 670.0,1053.3 C671.3,1029.6 672.6,1008.0 673.9,988.5 C675.2,969.1 676.3,949.6 677.8,936.7 C679.3,923.7 681.2,919.4 683.0,910.7 C684.7,902.1 686.0,892.6 688.2,884.8 C690.3,877.0 693.3,869.7 695.9,864.1 C698.5,858.5 700.7,855.9 703.7,851.1 C706.7,846.4 710.9,843.7 714.1,835.6 C717.2,827.5 719.8,814.3 722.5,802.5 C725.2,790.7 727.9,777.5 730.0,765.0 C732.1,752.5 733.3,740.0 735.0,727.5 C736.7,715.0 738.3,702.5 740.0,690.0 C741.7,677.5 743.3,665.0 745.0,652.5 C746.7,640.0 747.9,625.4 750.0,615.0 C752.1,604.6 755.0,598.3 757.5,590.0 C760.0,581.7 762.1,573.3 765.0,565.0 C767.9,556.7 771.7,548.3 775.0,540.0 C778.3,531.7 781.0,524.6 785.0,515.0 C789.0,505.4 795.4,490.0 799.0,482.5 C802.6,475.0 804.0,477.1 806.5,470.0 C809.0,462.9 811.9,449.2 814.0,440.0 C816.1,430.8 816.9,425.4 819.0,415.0 C821.1,404.6 823.6,390.0 826.5,377.5 C829.4,365.0 833.2,352.5 836.5,340.0 C839.8,327.5 843.2,312.9 846.5,302.5 C849.8,292.1 853.6,284.6 856.5,277.5 C859.4,270.4 861.5,265.4 864.0,260.0 C866.5,254.6 869.0,249.6 871.5,245.0 C874.0,240.4 876.1,236.7 879.0,232.5 C881.9,228.3 885.7,224.2 889.0,220.0 C892.3,215.8 896.5,211.7 899.0,207.5 C901.5,203.3 901.9,198.3 904.0,195.0 C906.1,191.7 909.0,190.0 911.5,187.5 C914.0,185.0 916.5,181.9 919.0,180.0 C921.5,178.1 924.0,176.2 926.5,176.2 C929.0,176.2 931.9,176.9 934.0,180.0 C936.1,183.1 937.3,189.2 939.0,195.0 C940.7,200.8 942.8,208.3 944.0,215.0 C945.2,221.7 945.5,229.2 946.5,235.0 C947.5,240.8 948.6,248.3 950.2,250.0 C951.9,251.7 954.6,247.5 956.5,245.0 C958.4,242.5 960.0,237.3 961.5,235.0 C963.0,232.7 963.6,230.4 965.2,231.2 C966.9,232.1 970.0,234.4 971.5,240.0 C973.0,245.6 973.2,256.7 974.0,265.0 C974.8,273.3 975.7,279.6 976.5,290.0 C977.3,300.4 978.0,315.0 979.0,327.5 C980.0,340.0 981.5,354.6 982.8,365.0 C984.0,375.4 985.0,386.7 986.5,390.0 C988.0,393.3 989.8,389.2 991.5,385.0 C993.2,380.8 994.8,369.6 996.5,365.0 C998.2,360.4 999.8,357.5 1001.5,357.5 C1003.2,357.5 1004.4,360.8 1006.5,365.0 C1008.6,369.2 1011.9,378.3 1014.0,382.5 C1016.1,386.7 1017.6,384.9 1019.0,390.0 C1020.4,395.1 1021.1,407.7 1022.1,412.8 C1023.2,418.0 1023.7,417.7 1025.3,420.9 C1026.9,424.1 1029.6,429.2 1031.8,432.1 C1033.9,435.1 1036.0,437.5 1038.2,438.5 C1040.3,439.6 1042.7,439.6 1044.6,438.5 C1046.5,437.5 1048.1,434.5 1049.4,432.1 C1050.8,429.7 1051.6,426.8 1052.6,424.1 C1053.7,421.4 1054.5,418.5 1055.8,416.1 C1057.2,413.7 1059.1,411.8 1060.7,409.6 C1062.3,407.5 1064.1,406.5 1065.5,403.2 C1066.9,399.9 1067.6,395.1 1069.0,390.0 C1070.4,384.9 1072.3,379.6 1074.0,372.5 C1075.7,365.4 1076.9,355.0 1079.0,347.5 C1081.1,340.0 1084.0,328.8 1086.5,327.5 C1089.0,326.2 1091.9,335.0 1094.0,340.0 C1096.1,345.0 1096.9,351.2 1099.0,357.5 C1101.1,363.8 1104.4,372.1 1106.5,377.5 C1108.6,382.9 1110.6,384.1 1111.5,390.0 C1112.4,395.9 1111.4,405.8 1112.0,412.8 C1112.7,419.9 1114.2,424.9 1115.3,432.1 C1116.3,439.3 1117.7,449.5 1118.5,456.2 C1119.3,462.9 1119.5,465.6 1120.1,472.3 C1120.6,479.0 1121.3,489.7 1121.7,496.4 C1122.1,503.0 1122.2,505.7 1122.5,512.4 C1122.8,519.1 1123.0,528.5 1123.3,536.5 C1123.6,544.5 1123.9,550.0 1124.1,560.6 C1124.3,571.2 1124.3,588.5 1124.7,600.0 C1125.1,611.5 1126.0,619.8 1126.7,629.6 C1127.3,639.5 1128.0,649.4 1128.7,659.3 C1129.3,669.2 1129.8,679.1 1130.6,688.9 C1131.5,698.8 1132.4,709.5 1133.6,718.6 C1134.7,727.6 1136.0,737.4 1137.5,743.3 C1139.1,749.2 1141.3,754.2 1143.0,754.2 C1144.6,754.2 1146.2,749.2 1147.4,743.3 C1148.7,737.4 1149.6,727.6 1150.4,718.6 C1151.2,709.5 1151.5,698.8 1152.4,688.9 C1153.2,679.1 1154.5,669.2 1155.3,659.3 C1156.2,649.4 1156.7,639.5 1157.3,629.6 C1158.0,619.8 1158.8,607.5 1159.3,600.0 C1159.8,592.5 1159.5,591.2 1160.2,584.7 C1160.9,578.1 1162.4,568.6 1163.4,560.6 C1164.5,552.6 1165.6,544.5 1166.7,536.5 C1167.7,528.5 1168.8,520.4 1169.9,512.4 C1170.9,504.4 1172.0,496.4 1173.1,488.3 C1174.1,480.3 1175.2,472.3 1176.3,464.2 C1177.4,456.2 1178.4,448.2 1179.5,440.1 C1180.6,432.1 1180.3,424.4 1182.7,416.1 C1185.1,407.7 1190.5,398.5 1194.0,390.0 C1197.5,381.5 1201.1,373.3 1204.0,365.0 C1206.9,356.7 1209.0,347.1 1211.5,340.0 C1214.0,332.9 1216.5,326.2 1219.0,322.5 C1221.5,318.8 1224.0,319.2 1226.5,317.5 C1229.0,315.8 1231.9,311.7 1234.0,312.5 C1236.1,313.3 1237.3,317.9 1239.0,322.5 C1240.7,327.1 1242.3,333.8 1244.0,340.0 C1245.7,346.2 1247.3,355.0 1249.0,360.0 C1250.7,365.0 1252.3,370.4 1254.0,370.0 C1255.7,369.6 1257.3,361.7 1259.0,357.5 C1260.7,353.3 1261.9,347.9 1264.0,345.0 C1266.1,342.1 1269.0,341.2 1271.5,340.0 C1274.0,338.8 1276.5,338.8 1279.0,337.5 C1281.5,336.2 1284.0,334.6 1286.5,332.5 C1289.0,330.4 1291.5,324.2 1294.0,325.0 C1296.5,325.8 1299.0,335.0 1301.5,337.5 C1304.0,340.0 1306.9,341.7 1309.0,340.0 C1311.1,338.3 1312.3,333.8 1314.0,327.5 C1315.7,321.2 1316.9,310.4 1319.0,302.5 C1321.1,294.6 1323.6,285.4 1326.5,280.0 C1329.4,274.6 1332.8,272.5 1336.5,270.0 C1340.2,267.5 1344.8,265.4 1349.0,265.0 C1353.2,264.6 1358.2,265.0 1361.5,267.5 C1364.8,270.0 1367.1,274.2 1369.0,280.0 C1370.9,285.8 1371.5,292.5 1373.0,302.5 C1374.5,312.5 1376.3,325.4 1378.0,340.0 C1379.7,354.6 1382.7,386.7 1383.0,390.0 C1383.3,393.3 1379.4,358.2 1379.5,360.0 C1379.6,361.8 1382.2,387.2 1383.6,400.8 C1385.0,414.4 1386.1,428.0 1387.7,441.6 C1389.3,455.2 1391.3,469.9 1393.1,482.3 C1394.9,494.8 1396.5,505.5 1398.5,516.3 C1400.6,527.2 1402.9,540.1 1405.3,547.6 C1407.8,555.1 1411.0,560.7 1413.5,561.2 C1416.0,561.6 1418.5,555.5 1420.3,550.3 C1422.1,545.1 1423.2,536.7 1424.4,529.9 C1425.5,523.1 1426.2,515.2 1427.1,509.5 C1428.0,503.9 1428.5,503.9 1429.8,495.9 C1431.2,488.0 1433.2,473.3 1435.3,462.0 C1437.3,450.6 1440.2,438.2 1442.1,428.0 C1443.9,417.8 1444.5,408.5 1446.1,400.8 C1447.7,393.1 1449.8,385.4 1451.6,381.8 C1453.4,378.1 1455.0,378.1 1457.0,379.0 C1459.0,379.9 1461.5,386.3 1463.8,387.2 C1466.1,388.1 1468.3,386.7 1470.6,384.5 C1472.9,382.2 1475.4,377.7 1477.4,373.6 C1479.4,369.5 1480.2,371.8 1482.8,360.0 C1485.4,348.2 1490.1,314.2 1493.0,302.5 C1495.9,290.8 1498.0,291.7 1500.5,290.0 C1503.0,288.3 1505.5,289.2 1508.0,292.5 C1510.5,295.8 1513.0,303.8 1515.5,310.0 C1518.0,316.2 1520.9,327.1 1523.0,330.0 C1525.1,332.9 1526.3,332.1 1528.0,327.5 C1529.7,322.9 1530.9,310.8 1533.0,302.5 C1535.1,294.2 1538.0,285.8 1540.5,277.5 C1543.0,269.2 1545.5,260.0 1548.0,252.5 C1550.5,245.0 1553.0,237.9 1555.5,232.5 C1558.0,227.1 1560.5,222.5 1563.0,220.0 C1565.5,217.5 1568.0,215.8 1570.5,217.5 C1573.0,219.2 1575.5,225.4 1578.0,230.0 C1580.5,234.6 1583.0,242.9 1585.5,245.0 C1588.0,247.1 1590.5,245.8 1593.0,242.5 C1595.5,239.2 1598.0,231.2 1600.5,225.0 C1603.0,218.8 1605.5,210.8 1608.0,205.0 C1610.5,199.2 1613.0,192.9 1615.5,190.0 C1618.0,187.1 1620.5,187.1 1623.0,187.5 C1625.5,187.9 1628.0,190.8 1630.5,192.5 C1633.0,194.2 1635.5,197.5 1638.0,197.5 C1640.5,197.5 1643.0,194.6 1645.5,192.5 C1648.0,190.4 1650.5,186.2 1653.0,185.0 C1655.5,183.8 1658.0,183.3 1660.5,185.0 C1663.0,186.7 1665.9,190.8 1668.0,195.0 C1670.1,199.2 1671.8,207.1 1673.0,210.0 C1674.2,212.9 1674.2,215.0 1675.5,212.5 C1676.8,210.0 1678.4,201.7 1680.5,195.0 C1682.6,188.3 1685.5,179.2 1688.0,172.5 C1690.5,165.8 1693.0,158.8 1695.5,155.0 C1698.0,151.2 1700.5,148.8 1703.0,150.0 C1705.5,151.2 1708.0,160.0 1710.5,162.5 C1713.0,165.0 1715.5,165.0 1718.0,165.0 C1720.5,165.0 1723.0,164.6 1725.5,162.5 C1728.0,160.4 1730.5,156.7 1733.0,152.5 C1735.5,148.3 1738.0,142.1 1740.5,137.5 C1743.0,132.9 1745.1,128.8 1748.0,125.0 C1750.9,121.2 1754.7,117.9 1758.0,115.0 C1761.3,112.1 1765.1,107.5 1768.0,107.5 C1770.9,107.5 1773.4,112.5 1775.5,115.0 C1777.6,117.5 1778.4,122.5 1780.5,122.5 C1782.6,122.5 1785.1,117.9 1788.0,115.0 C1790.9,112.1 1794.7,108.8 1798.0,105.0 C1801.3,101.2 1804.7,96.2 1808.0,92.5 C1811.3,88.8 1814.2,84.6 1818.0,82.5 C1821.8,80.4 1826.3,80.4 1830.5,80.0 C1834.7,79.6 1839.2,80.0 1843.0,80.0 C1846.8,80.0 1850.1,77.5 1853.0,80.0 C1855.9,82.5 1858.8,91.7 1860.5,95.0 C1862.2,98.3 1861.3,100.4 1863.0,100.0 C1864.7,99.6 1867.6,94.6 1870.5,92.5 C1873.4,90.4 1877.2,89.2 1880.5,87.5 C1883.8,85.8 1887.2,83.8 1890.5,82.5 C1893.8,81.2 1897.2,79.6 1900.5,80.0 C1903.8,80.4 1907.2,84.2 1910.5,85.0 C1913.8,85.8 1917.2,84.6 1920.5,85.0 C1923.8,85.4 1928.3,87.5 1930.5,87.5 C1932.7,87.5 1931.9,84.7 1934.0,84.9 C1936.1,85.1 1940.5,89.2 1943.1,88.8 C1945.7,88.4 1947.7,84.2 1949.7,82.3 C1951.6,80.3 1953.1,78.1 1954.9,77.0 C1956.6,76.0 1958.1,74.4 1960.1,75.7 C1962.1,77.0 1964.8,82.5 1966.6,84.9 C1968.5,87.3 1969.7,91.2 1971.2,90.1 C1972.7,89.0 1974.2,81.2 1975.8,78.3 C1977.4,75.5 1978.8,74.9 1981.0,73.1 C1983.2,71.4 1985.8,69.2 1988.9,67.9 C1991.9,66.6 1996.3,65.9 1999.3,65.3 C2002.4,64.6 2004.5,65.1 2007.1,64.0 C2009.8,62.9 2012.4,59.6 2015.0,58.7 C2017.6,57.9 2020.4,57.9 2022.8,58.7 C2025.2,59.6 2027.2,61.8 2029.4,64.0 C2031.5,66.2 2033.9,69.0 2035.9,71.8 C2037.9,74.6 2039.4,77.7 2041.1,81.0 C2042.9,84.2 2044.4,87.5 2046.3,91.4 C2048.3,95.3 2050.7,100.3 2052.9,104.5 C2055.1,108.6 2057.5,112.8 2059.4,116.2 C2061.4,119.7 2062.9,123.2 2064.6,125.4 C2066.4,127.6 2067.9,129.1 2069.9,129.3 C2071.8,129.5 2074.2,128.0 2076.4,126.7 C2078.6,125.4 2080.8,123.4 2082.9,121.5 C2085.1,119.5 2087.3,117.5 2089.5,114.9 C2091.6,112.3 2093.8,109.1 2096.0,105.8 C2098.2,102.5 2100.4,98.2 2102.5,95.3 C2104.7,92.5 2106.9,91.4 2109.1,88.8 C2111.2,86.2 2113.4,83.8 2115.6,79.7 C2117.8,75.5 2120.0,68.1 2122.1,64.0 C2124.3,59.8 2126.7,57.0 2128.7,54.8 C2130.6,52.6 2132.2,50.7 2133.9,50.9 C2135.6,51.1 2137.6,53.1 2139.1,56.1 C2140.6,59.2 2142.0,65.7 2143.0,69.2 C2144.1,72.7 2144.6,77.5 2145.7,77.0 C2146.7,76.6 2148.1,70.3 2149.6,66.6 C2151.1,62.9 2152.8,57.4 2154.8,54.8 C2156.8,52.2 2159.2,51.3 2161.3,50.9 C2163.5,50.5 2165.7,51.8 2167.9,52.2 C2170.0,52.6 2172.4,52.9 2174.4,53.5 C2176.4,54.2 2177.5,54.8 2179.6,56.1 C2181.8,57.4 2185.1,61.1 2187.5,61.4 C2189.9,61.6 2191.9,58.5 2194.0,57.4 C2196.1,56.4 2198.4,55.0 2200.0,54.8 C2201.7,54.6 2202.2,57.0 2203.8,56.1 C2205.5,55.3 2208.7,50.7 2209.7,49.6" stroke="#0000ff"/>
<path d="M225.0,111.2 C226.7,111.9 232.1,113.1 235.0,115.0 C237.9,116.9 240.0,122.9 242.5,122.5 C245.0,122.1 247.9,115.0 250.0,112.5 C252.1,110.0 253.5,111.2 255.0,107.5 C256.5,103.8 257.5,94.4 258.8,90.0 C260.0,85.6 260.6,80.4 262.5,81.2 C264.4,82.1 267.5,90.0 270.0,95.0 C272.5,100.0 275.4,108.8 277.5,111.2 C279.6,113.8 280.4,108.5 282.5,110.0 C284.6,111.5 287.1,116.7 290.0,120.0 C292.9,123.3 296.2,126.7 300.0,130.0 C303.8,133.3 308.3,137.5 312.5,140.0 C316.7,142.5 320.8,142.9 325.0,145.0 C329.2,147.1 333.3,150.0 337.5,152.5 C341.7,155.0 343.8,157.9 350.0,160.0 C356.2,162.1 366.7,164.4 375.0,165.0 C383.3,165.6 391.7,164.6 400.0,163.8 C408.3,162.9 416.7,161.5 425.0,160.0 C433.3,158.5 441.7,156.7 450.0,155.0 C458.3,153.3 469.2,150.8 475.0,150.0 C480.8,149.2 481.8,149.7 484.9,149.9 C488.0,150.1 491.1,150.4 493.6,151.2 C496.1,152.0 497.5,153.4 499.8,154.9 C502.0,156.3 504.7,158.2 507.2,159.8 C509.6,161.5 512.1,162.5 514.6,164.8 C517.1,167.0 519.9,170.1 522.0,173.4 C524.1,176.7 525.3,182.7 526.9,184.5 C528.6,186.4 530.4,183.5 531.9,184.5 C533.3,185.6 533.9,188.0 535.6,190.7 C537.2,193.4 539.9,196.9 541.8,200.6 C543.6,204.3 545.3,209.2 546.7,212.9 C548.1,216.7 549.2,219.5 550.4,222.8 C551.6,226.1 552.7,231.9 554.1,232.7 C555.6,233.5 557.4,229.0 559.1,227.8 C560.7,226.5 562.4,226.7 564.0,225.3 C565.6,223.9 567.3,220.8 568.9,219.1 C570.6,217.5 572.2,216.4 573.9,215.4 C575.5,214.4 577.2,211.9 578.8,212.9 C580.5,214.0 582.3,218.3 583.8,221.6 C585.2,224.9 586.4,229.6 587.5,232.7 C588.5,235.8 587.9,233.8 589.9,240.0 C592.0,246.2 597.5,261.7 600.0,270.0 C602.5,278.3 603.3,282.5 605.0,290.0 C606.7,297.5 608.3,304.6 610.0,315.0 C611.7,325.4 613.3,342.1 615.0,352.5 C616.7,362.9 618.3,367.1 620.0,377.5 C621.7,387.9 623.3,404.6 625.0,415.0 C626.7,425.4 629.4,419.2 630.0,440.0 C630.6,460.8 628.5,510.8 628.8,540.0 C629.0,569.2 630.2,590.0 631.2,615.0 C632.3,640.0 634.0,665.0 635.0,690.0 C636.0,715.0 636.2,734.7 637.5,765.0 C638.8,795.3 641.0,843.2 642.8,871.9 C644.5,900.5 646.5,921.1 648.0,936.7 C649.5,952.2 649.9,958.7 651.9,965.2 C653.8,971.7 657.5,975.6 659.6,975.6 C661.8,975.6 663.1,971.7 664.8,965.2 C666.5,958.7 668.3,945.7 670.0,936.7 C671.7,927.6 673.5,921.5 675.2,910.7 C676.9,899.9 678.4,882.7 680.4,871.9 C682.3,861.1 685.3,848.1 686.9,845.9 C688.4,843.8 688.6,852.4 689.4,858.9 C690.3,865.4 690.5,882.2 692.0,884.8 C693.6,887.4 696.1,876.6 698.5,874.4 C700.9,872.3 704.1,871.0 706.3,871.9 C708.5,872.7 709.3,880.5 711.5,879.6 C713.6,878.8 716.7,870.6 719.3,866.7 C721.9,862.8 725.3,861.9 727.0,856.3 C728.8,850.7 729.6,839.0 729.6,833.0 C729.7,826.9 727.0,823.8 727.5,820.0 C728.0,816.2 730.8,812.9 732.5,810.0 C734.2,807.1 735.8,806.7 737.5,802.5 C739.2,798.3 740.8,791.2 742.5,785.0 C744.2,778.8 745.8,772.5 747.5,765.0 C749.2,757.5 750.8,748.3 752.5,740.0 C754.2,731.7 755.8,723.3 757.5,715.0 C759.2,706.7 760.8,697.5 762.5,690.0 C764.2,682.5 765.4,675.0 767.5,670.0 C769.6,665.0 772.9,665.0 775.0,660.0 C777.1,655.0 778.3,647.5 780.0,640.0 C781.7,632.5 783.3,621.2 785.0,615.0 C786.7,608.8 787.7,605.4 790.0,602.5 C792.3,599.6 795.8,598.3 799.0,597.5 C802.2,596.7 806.5,599.6 809.0,597.5 C811.5,595.4 812.3,590.4 814.0,585.0 C815.7,579.6 816.9,572.5 819.0,565.0 C821.1,557.5 824.0,547.5 826.5,540.0 C829.0,532.5 831.5,526.7 834.0,520.0 C836.5,513.3 839.0,506.7 841.5,500.0 C844.0,493.3 846.5,486.7 849.0,480.0 C851.5,473.3 854.0,466.7 856.5,460.0 C859.0,453.3 861.1,447.5 864.0,440.0 C866.9,432.5 871.5,422.5 874.0,415.0 C876.5,407.5 876.9,400.4 879.0,395.0 C881.1,389.6 884.0,385.8 886.5,382.5 C889.0,379.2 891.9,377.9 894.0,375.0 C896.1,372.1 897.8,369.2 899.0,365.0 C900.2,360.8 899.8,354.2 901.5,350.0 C903.2,345.8 907.5,343.8 909.0,340.0 C910.5,336.2 909.0,331.2 910.2,327.5 C911.5,323.8 914.2,320.8 916.5,317.5 C918.8,314.2 921.9,310.8 924.0,307.5 C926.1,304.2 926.9,298.8 929.0,297.5 C931.1,296.2 934.0,297.9 936.5,300.0 C939.0,302.1 941.9,306.2 944.0,310.0 C946.1,313.8 947.3,317.5 949.0,322.5 C950.7,327.5 952.3,337.9 954.0,340.0 C955.7,342.1 957.3,339.2 959.0,335.0 C960.7,330.8 962.5,317.1 964.0,315.0 C965.5,312.9 966.5,316.2 967.8,322.5 C969.0,328.8 970.0,341.2 971.5,352.5 C973.0,363.8 974.8,378.3 976.5,390.0 C978.2,401.7 979.2,414.7 981.5,422.5 C983.8,430.3 987.8,433.7 990.0,436.9 C992.2,440.1 993.5,437.7 994.8,441.8 C996.2,445.8 996.4,458.1 998.0,461.0 C999.6,464.0 1002.6,458.3 1004.5,459.4 C1006.3,460.5 1007.7,465.6 1009.3,467.4 C1010.9,469.3 1012.5,469.6 1014.1,470.7 C1015.7,471.7 1017.6,469.1 1018.9,473.9 C1020.2,478.7 1020.8,494.5 1022.1,499.6 C1023.5,504.7 1025.1,503.0 1026.9,504.4 C1028.8,505.7 1031.5,505.7 1033.4,507.6 C1035.2,509.5 1036.3,514.6 1038.2,515.6 C1040.1,516.7 1042.7,513.5 1044.6,514.0 C1046.5,514.6 1047.8,517.2 1049.4,518.8 C1051.0,520.4 1052.9,523.7 1054.2,523.7 C1055.6,523.7 1056.4,521.2 1057.4,518.8 C1058.5,516.4 1059.1,511.9 1060.7,509.2 C1062.3,506.5 1065.2,505.5 1067.1,502.8 C1069.0,500.1 1070.6,496.9 1071.9,493.1 C1073.2,489.4 1074.3,484.6 1075.1,480.3 C1075.9,476.0 1075.9,470.7 1076.7,467.4 C1077.5,464.2 1078.9,464.8 1079.9,461.0 C1081.0,457.3 1082.1,449.0 1083.1,445.0 C1084.2,441.0 1084.7,438.8 1086.4,436.9 C1088.0,435.1 1090.9,434.0 1092.8,433.7 C1094.7,433.5 1096.3,433.2 1097.6,435.3 C1098.9,437.5 1099.5,445.0 1100.8,446.6 C1102.1,448.2 1104.0,444.7 1105.6,445.0 C1107.2,445.2 1109.1,446.0 1110.4,448.2 C1111.8,450.3 1112.6,454.1 1113.7,457.8 C1114.7,461.6 1115.8,466.4 1116.9,470.7 C1117.9,474.9 1119.0,479.2 1120.1,483.5 C1121.1,487.8 1122.5,491.5 1123.3,496.4 C1124.1,501.2 1124.4,507.1 1124.9,512.4 C1125.4,517.8 1126.0,523.1 1126.5,528.5 C1127.0,533.8 1127.6,539.2 1128.1,544.5 C1128.6,549.9 1129.2,555.2 1129.7,560.6 C1130.2,565.9 1130.8,571.3 1131.3,576.7 C1131.9,582.0 1132.7,583.9 1132.9,592.7 C1133.1,601.5 1131.8,618.5 1132.6,629.6 C1133.4,640.7 1136.1,651.1 1137.5,659.3 C1139.0,667.5 1140.2,674.3 1141.5,679.1 C1142.8,683.8 1144.1,687.1 1145.5,687.9 C1146.8,688.8 1148.1,688.8 1149.4,684.0 C1150.7,679.2 1152.2,668.3 1153.4,659.3 C1154.5,650.2 1155.3,639.5 1156.3,629.6 C1157.3,619.8 1157.8,608.8 1159.3,600.0 C1160.7,591.2 1163.5,583.2 1165.0,576.7 C1166.5,570.1 1167.2,565.9 1168.3,560.6 C1169.3,555.2 1170.4,549.9 1171.5,544.5 C1172.5,539.2 1173.6,533.8 1174.7,528.5 C1175.8,523.1 1176.8,517.8 1177.9,512.4 C1179.0,507.1 1180.0,501.7 1181.1,496.4 C1182.2,491.0 1183.2,485.6 1184.3,480.3 C1185.4,474.9 1186.5,468.8 1187.5,464.2 C1188.6,459.7 1189.4,456.2 1190.7,453.0 C1192.1,449.8 1194.2,448.4 1195.6,445.0 C1196.9,441.5 1197.4,436.4 1198.8,432.1 C1200.1,427.8 1202.0,423.3 1203.6,419.3 C1205.2,415.3 1207.1,411.2 1208.4,408.0 C1209.7,404.8 1212.3,398.8 1211.6,400.0 C1210.9,401.2 1203.6,415.8 1204.0,415.0 C1204.4,414.2 1210.7,399.6 1214.0,395.0 C1217.3,390.4 1221.1,390.4 1224.0,387.5 C1226.9,384.6 1229.0,380.0 1231.5,377.5 C1234.0,375.0 1236.5,370.4 1239.0,372.5 C1241.5,374.6 1244.4,383.8 1246.5,390.0 C1248.6,396.2 1249.8,406.2 1251.5,410.0 C1253.2,413.8 1254.8,415.0 1256.5,412.5 C1258.2,410.0 1259.8,400.0 1261.5,395.0 C1263.2,390.0 1264.4,385.4 1266.5,382.5 C1268.6,379.6 1271.5,379.6 1274.0,377.5 C1276.5,375.4 1279.0,373.8 1281.5,370.0 C1284.0,366.2 1286.9,358.3 1289.0,355.0 C1291.1,351.7 1292.3,348.3 1294.0,350.0 C1295.7,351.7 1296.9,358.3 1299.0,365.0 C1301.1,371.7 1304.0,386.7 1306.5,390.0 C1309.0,393.3 1311.9,393.3 1314.0,385.0 C1316.1,376.7 1317.3,351.7 1319.0,340.0 C1320.7,328.3 1322.3,322.1 1324.0,315.0 C1325.7,307.9 1326.9,302.9 1329.0,297.5 C1331.1,292.1 1333.2,286.7 1336.5,282.5 C1339.8,278.3 1344.8,273.8 1349.0,272.5 C1353.2,271.2 1357.8,272.9 1361.5,275.0 C1365.2,277.1 1369.6,282.5 1371.5,285.0 C1373.4,287.5 1370.5,275.2 1373.0,290.0 C1375.5,304.8 1383.0,352.9 1386.3,373.6 C1389.7,394.3 1390.6,400.8 1393.1,414.4 C1395.6,428.0 1398.8,442.7 1401.3,455.2 C1403.8,467.6 1405.8,480.1 1408.1,489.1 C1410.3,498.2 1412.6,506.1 1414.9,509.5 C1417.1,512.9 1419.6,511.8 1421.7,509.5 C1423.7,507.3 1424.8,501.6 1427.1,495.9 C1429.4,490.3 1432.5,482.3 1435.3,475.6 C1438.0,468.8 1440.9,460.8 1443.4,455.2 C1445.9,449.5 1447.9,444.5 1450.2,441.6 C1452.5,438.6 1455.0,437.5 1457.0,437.5 C1459.0,437.5 1460.6,440.0 1462.4,441.6 C1464.3,443.2 1465.6,446.6 1467.9,447.0 C1470.1,447.5 1473.5,446.3 1476.0,444.3 C1478.5,442.2 1480.6,438.6 1482.8,434.8 C1485.1,430.9 1487.4,426.2 1489.6,421.2 C1491.9,416.2 1493.9,410.3 1496.4,404.9 C1498.9,399.4 1502.1,389.7 1504.6,388.5 C1507.1,387.4 1509.3,393.8 1511.4,398.1 C1513.4,402.4 1515.2,408.3 1516.8,414.4 C1518.4,420.5 1519.3,429.6 1520.9,434.8 C1522.5,440.0 1524.8,443.8 1526.3,445.6 C1527.9,447.5 1528.1,449.9 1530.0,445.6 C1531.9,441.4 1535.0,427.2 1538.0,420.0 C1541.0,412.8 1543.8,408.3 1548.0,402.5 C1552.2,396.7 1558.8,388.8 1563.0,385.0 C1567.2,381.2 1570.1,379.2 1573.0,380.0 C1575.9,380.8 1578.0,386.2 1580.5,390.0 C1583.0,393.8 1585.9,399.2 1588.0,402.5 C1590.1,405.8 1591.3,410.4 1593.0,410.0 C1594.7,409.6 1595.9,404.2 1598.0,400.0 C1600.1,395.8 1603.0,389.6 1605.5,385.0 C1608.0,380.4 1610.5,375.4 1613.0,372.5 C1615.5,369.6 1617.6,368.3 1620.5,367.5 C1623.4,366.7 1627.6,367.1 1630.5,367.5 C1633.4,367.9 1635.5,369.2 1638.0,370.0 C1640.5,370.8 1643.0,373.3 1645.5,372.5 C1648.0,371.7 1650.5,367.5 1653.0,365.0 C1655.5,362.5 1658.4,358.8 1660.5,357.5 C1662.6,356.2 1663.8,356.2 1665.5,357.5 C1667.2,358.8 1668.8,364.6 1670.5,365.0 C1672.2,365.4 1673.8,366.2 1675.5,360.0 C1677.2,353.8 1678.8,339.2 1680.5,327.5 C1682.2,315.8 1683.8,300.4 1685.5,290.0 C1687.2,279.6 1688.8,272.5 1690.5,265.0 C1692.2,257.5 1693.4,250.0 1695.5,245.0 C1697.6,240.0 1700.5,237.1 1703.0,235.0 C1705.5,232.9 1708.0,232.5 1710.5,232.5 C1713.0,232.5 1715.5,235.8 1718.0,235.0 C1720.5,234.2 1723.0,230.8 1725.5,227.5 C1728.0,224.2 1730.5,220.4 1733.0,215.0 C1735.5,209.6 1738.0,200.0 1740.5,195.0 C1743.0,190.0 1745.1,187.9 1748.0,185.0 C1750.9,182.1 1754.7,179.6 1758.0,177.5 C1761.3,175.4 1765.1,172.1 1768.0,172.5 C1770.9,172.9 1773.0,177.9 1775.5,180.0 C1778.0,182.1 1780.5,185.0 1783.0,185.0 C1785.5,185.0 1788.0,181.7 1790.5,180.0 C1793.0,178.3 1795.5,177.9 1798.0,175.0 C1800.5,172.1 1803.0,166.2 1805.5,162.5 C1808.0,158.8 1810.1,155.0 1813.0,152.5 C1815.9,150.0 1819.7,149.6 1823.0,147.5 C1826.3,145.4 1829.7,142.5 1833.0,140.0 C1836.3,137.5 1839.7,135.8 1843.0,132.5 C1846.3,129.2 1850.1,120.8 1853.0,120.0 C1855.9,119.2 1858.0,127.1 1860.5,127.5 C1863.0,127.9 1865.1,124.2 1868.0,122.5 C1870.9,120.8 1874.7,120.0 1878.0,117.5 C1881.3,115.0 1884.7,110.0 1888.0,107.5 C1891.3,105.0 1896.0,102.6 1898.0,102.5 C1900.0,102.4 1898.4,106.1 1900.0,107.1 C1901.6,108.1 1905.7,107.5 1907.8,108.4 C1910.0,109.3 1911.3,111.9 1913.1,112.3 C1914.8,112.8 1916.1,111.4 1918.3,111.0 C1920.5,110.6 1923.5,109.5 1926.1,109.7 C1928.7,109.9 1931.8,112.1 1934.0,112.3 C1936.2,112.5 1937.5,110.4 1939.2,111.0 C1940.9,111.7 1942.7,115.4 1944.4,116.2 C1946.2,117.1 1947.9,116.9 1949.7,116.2 C1951.4,115.6 1953.1,113.6 1954.9,112.3 C1956.6,111.0 1958.6,108.2 1960.1,108.4 C1961.6,108.6 1962.7,110.8 1964.0,113.6 C1965.3,116.5 1966.4,122.1 1967.9,125.4 C1969.5,128.7 1971.4,132.8 1973.2,133.2 C1974.9,133.7 1976.4,130.0 1978.4,128.0 C1980.4,126.0 1982.3,123.9 1984.9,121.5 C1987.5,119.1 1991.2,116.0 1994.1,113.6 C1996.9,111.2 1999.3,109.9 2001.9,107.1 C2004.5,104.3 2007.1,99.7 2009.8,96.6 C2012.4,93.6 2015.4,90.5 2017.6,88.8 C2019.8,87.1 2021.1,86.0 2022.8,86.2 C2024.6,86.4 2026.3,88.6 2028.1,90.1 C2029.8,91.6 2031.5,93.4 2033.3,95.3 C2035.0,97.3 2036.8,99.3 2038.5,101.9 C2040.3,104.5 2042.4,108.2 2043.7,111.0 C2045.0,113.8 2045.0,116.2 2046.3,118.9 C2047.7,121.5 2049.8,124.1 2051.6,126.7 C2053.3,129.3 2054.8,132.8 2056.8,134.5 C2058.8,136.3 2061.2,136.3 2063.3,137.1 C2065.5,138.0 2067.5,138.7 2069.9,139.8 C2072.3,140.8 2075.1,143.5 2077.7,143.7 C2080.3,143.9 2082.9,142.2 2085.5,141.1 C2088.2,140.0 2091.6,140.0 2093.4,137.1 C2095.1,134.3 2094.7,127.6 2096.0,124.1 C2097.3,120.6 2099.1,118.2 2101.2,116.2 C2103.4,114.3 2106.7,113.4 2109.1,112.3 C2111.5,111.2 2113.4,111.2 2115.6,109.7 C2117.8,108.2 2119.7,106.2 2122.1,103.2 C2124.5,100.1 2127.8,94.5 2130.0,91.4 C2132.2,88.4 2133.5,85.5 2135.2,84.9 C2136.9,84.2 2138.9,85.5 2140.4,87.5 C2142.0,89.5 2143.0,95.8 2144.3,96.6 C2145.7,97.5 2146.7,95.3 2148.3,92.7 C2149.8,90.1 2151.8,83.6 2153.5,81.0 C2155.2,78.3 2156.5,77.7 2158.7,77.0 C2160.9,76.4 2163.9,76.8 2166.6,77.0 C2169.2,77.3 2172.0,78.1 2174.4,78.3 C2176.8,78.6 2178.8,78.1 2180.9,78.3 C2183.1,78.6 2185.3,79.9 2187.5,79.7 C2189.6,79.4 2191.9,77.7 2194.0,77.0 C2196.1,76.4 2200.1,75.1 2200.0,75.7 C2199.9,76.4 2193.2,81.0 2193.4,81.0 C2193.6,81.0 2198.5,76.2 2201.2,75.7 C2204.0,75.3 2208.3,77.9 2209.7,78.3" stroke="#ff00ff"/>
<path d="M225.0,102.5 C226.2,102.9 230.0,104.0 232.5,105.0 C235.0,106.0 237.5,109.6 240.0,108.8 C242.5,107.9 245.4,103.1 247.5,100.0 C249.6,96.9 251.0,94.2 252.5,90.0 C254.0,85.8 254.6,79.0 256.2,75.0 C257.9,71.0 260.2,65.4 262.5,66.2 C264.8,67.1 267.1,75.2 270.0,80.0 C272.9,84.8 277.1,90.8 280.0,95.0 C282.9,99.2 285.4,100.8 287.5,105.0 C289.6,109.2 290.8,115.8 292.5,120.0 C294.2,124.2 295.4,127.1 297.5,130.0 C299.6,132.9 302.1,134.6 305.0,137.5 C307.9,140.4 311.7,145.0 315.0,147.5 C318.3,150.0 321.7,150.8 325.0,152.5 C328.3,154.2 332.1,155.8 335.0,157.5 C337.9,159.2 337.9,161.9 342.5,162.5 C347.1,163.1 355.0,161.9 362.5,161.2 C370.0,160.6 379.2,160.2 387.5,158.8 C395.8,157.3 404.2,155.2 412.5,152.5 C420.8,149.8 429.2,146.7 437.5,142.5 C445.8,138.3 455.4,131.9 462.5,127.5 C469.6,123.1 475.8,118.5 480.0,116.2 C484.2,114.0 484.9,115.5 487.4,114.1 C489.9,112.7 491.9,109.6 494.8,107.9 C497.7,106.3 501.0,105.5 504.7,104.2 C508.4,103.0 513.8,100.5 517.1,100.5 C520.4,100.5 522.4,104.2 524.5,104.2 C526.5,104.2 527.8,101.1 529.4,100.5 C531.1,99.9 532.7,99.9 534.4,100.5 C536.0,101.1 537.4,102.6 539.3,104.2 C541.1,105.9 543.6,108.4 545.5,110.4 C547.3,112.5 549.0,114.1 550.4,116.6 C551.9,119.1 552.7,124.4 554.1,125.2 C555.6,126.1 557.4,123.4 559.1,121.5 C560.7,119.7 562.8,117.2 564.0,114.1 C565.2,111.0 565.2,105.9 566.5,103.0 C567.7,100.1 570.0,98.7 571.4,96.8 C572.9,95.0 573.9,93.5 575.1,91.9 C576.4,90.2 577.4,88.4 578.8,86.9 C580.3,85.5 582.1,84.1 583.8,83.2 C585.4,82.4 587.1,82.8 588.7,82.0 C590.4,81.2 592.0,78.1 593.7,78.3 C595.3,78.5 596.9,82.2 598.6,83.2 C600.2,84.3 602.1,83.0 603.5,84.5 C605.0,85.9 606.2,89.6 607.2,91.9 C608.3,94.1 608.9,95.2 609.7,98.1 C610.5,100.9 611.4,105.7 612.2,109.2 C613.0,112.7 613.8,117.2 614.7,119.1 C615.5,120.9 616.5,118.6 617.1,120.3 C617.7,121.9 617.7,124.8 618.4,128.9 C619.0,133.1 620.2,140.3 620.8,145.0 C621.4,149.7 621.7,152.2 622.1,157.4 C622.5,162.5 622.9,169.7 623.3,175.9 C623.7,182.1 624.2,189.3 624.5,194.4 C624.8,199.6 624.8,201.6 625.2,206.8 C625.5,211.9 626.1,219.8 626.4,225.3 C626.7,230.8 626.4,229.2 627.0,240.0 C627.6,250.8 628.7,273.3 630.0,290.0 C631.3,306.7 633.8,323.3 635.0,340.0 C636.2,356.7 636.7,373.3 637.5,390.0 C638.3,406.7 639.2,419.2 640.0,440.0 C640.8,460.8 641.7,490.0 642.5,515.0 C643.3,540.0 644.2,565.0 645.0,590.0 C645.8,615.0 646.7,644.2 647.5,665.0 C648.3,685.8 649.2,700.4 650.0,715.0 C650.8,729.6 651.7,740.8 652.5,752.5 C653.3,764.2 654.2,776.2 655.0,785.0 C655.8,793.8 656.7,803.3 657.5,805.0 C658.3,806.7 658.8,803.8 660.0,795.0 C661.2,786.2 662.9,765.8 665.0,752.5 C667.1,739.2 670.0,724.6 672.5,715.0 C675.0,705.4 677.9,699.6 680.0,695.0 C682.1,690.4 683.5,686.7 685.0,687.5 C686.5,688.3 687.5,696.7 688.8,700.0 C690.0,703.3 690.6,706.5 692.5,707.5 C694.4,708.5 697.5,705.8 700.0,706.2 C702.5,706.7 705.6,708.5 707.5,710.0 C709.4,711.5 709.6,715.8 711.2,715.0 C712.9,714.2 715.2,708.3 717.5,705.0 C719.8,701.7 723.3,699.2 725.0,695.0 C726.7,690.8 726.7,685.8 727.5,680.0 C728.3,674.2 728.8,665.4 730.0,660.0 C731.2,654.6 733.3,651.7 735.0,647.5 C736.7,643.3 738.3,640.4 740.0,635.0 C741.7,629.6 742.9,622.5 745.0,615.0 C747.1,607.5 750.0,598.3 752.5,590.0 C755.0,581.7 757.1,573.3 760.0,565.0 C762.9,556.7 766.7,548.3 770.0,540.0 C773.3,531.7 777.1,522.5 780.0,515.0 C782.9,507.5 784.3,500.0 787.5,495.0 C790.7,490.0 795.4,486.5 799.0,485.0 C802.6,483.5 805.7,487.9 809.0,486.2 C812.3,484.6 815.7,477.9 819.0,475.0 C822.3,472.1 826.1,468.8 829.0,468.8 C831.9,468.8 834.0,472.7 836.5,475.0 C839.0,477.3 841.5,482.5 844.0,482.5 C846.5,482.5 849.4,478.8 851.5,475.0 C853.6,471.2 854.8,465.0 856.5,460.0 C858.2,455.0 859.8,451.7 861.5,445.0 C863.2,438.3 864.8,425.0 866.5,420.0 C868.2,415.0 869.8,415.0 871.5,415.0 C873.2,415.0 874.4,421.2 876.5,420.0 C878.6,418.8 881.5,408.3 884.0,407.5 C886.5,406.7 889.4,411.2 891.5,415.0 C893.6,418.8 894.8,430.8 896.5,430.0 C898.2,429.2 899.8,414.6 901.5,410.0 C903.2,405.4 905.2,407.9 906.5,402.5 C907.8,397.1 907.8,385.8 909.0,377.5 C910.2,369.2 912.3,359.6 914.0,352.5 C915.7,345.4 917.3,340.4 919.0,335.0 C920.7,329.6 922.3,323.8 924.0,320.0 C925.7,316.2 926.9,314.2 929.0,312.5 C931.1,310.8 934.0,310.8 936.5,310.0 C939.0,309.2 941.9,306.7 944.0,307.5 C946.1,308.3 947.3,312.5 949.0,315.0 C950.7,317.5 952.3,324.2 954.0,322.5 C955.7,320.8 957.1,309.6 959.0,305.0 C960.9,300.4 963.2,295.0 965.2,295.0 C967.3,295.0 969.6,299.6 971.5,305.0 C973.4,310.4 974.8,317.5 976.5,327.5 C978.2,337.5 979.8,353.8 981.5,365.0 C983.2,376.2 984.4,387.5 986.5,395.0 C988.6,402.5 992.9,406.5 994.0,410.0 C995.1,413.5 992.8,412.9 993.2,416.1 C993.6,419.2 994.8,426.5 996.4,428.9 C998.0,431.3 1000.2,430.0 1002.8,430.5 C1005.5,431.0 1010.1,432.1 1012.5,432.1 C1014.9,432.1 1016.0,429.2 1017.3,430.5 C1018.6,431.9 1019.7,436.7 1020.5,440.1 C1021.3,443.6 1020.5,449.2 1022.1,451.4 C1023.7,453.5 1027.5,451.4 1030.1,453.0 C1032.8,454.6 1035.5,459.7 1038.2,461.0 C1040.9,462.4 1043.8,460.0 1046.2,461.0 C1048.6,462.1 1050.8,466.9 1052.6,467.4 C1054.5,468.0 1055.8,466.1 1057.4,464.2 C1059.1,462.4 1060.4,458.6 1062.3,456.2 C1064.1,453.8 1066.8,451.7 1068.7,449.8 C1070.6,447.9 1072.2,447.4 1073.5,445.0 C1074.8,442.6 1075.6,438.8 1076.7,435.3 C1077.8,431.9 1078.9,427.8 1079.9,424.1 C1081.0,420.3 1082.1,416.9 1083.1,412.8 C1084.2,408.8 1085.8,403.0 1086.4,400.0 C1086.9,397.0 1085.2,397.1 1086.5,395.0 C1087.8,392.9 1091.1,388.3 1094.0,387.5 C1096.9,386.7 1101.1,389.6 1104.0,390.0 C1106.9,390.4 1109.4,387.9 1111.5,390.0 C1113.6,392.1 1115.6,399.5 1116.5,402.5 C1117.4,405.5 1116.3,404.4 1116.9,408.0 C1117.5,411.6 1119.0,417.4 1120.1,424.1 C1121.1,430.8 1122.2,440.1 1123.3,448.2 C1124.4,456.2 1125.4,464.2 1126.5,472.3 C1127.6,480.3 1128.6,488.3 1129.7,496.4 C1130.8,504.4 1131.9,513.8 1132.9,520.4 C1134.0,527.1 1135.1,531.1 1136.1,536.5 C1137.2,541.9 1138.3,547.2 1139.3,552.6 C1140.4,557.9 1141.5,563.3 1142.6,568.6 C1143.6,574.0 1145.0,580.7 1145.8,584.7 C1146.6,588.7 1146.6,592.7 1147.4,592.7 C1148.2,592.7 1149.5,588.7 1150.6,584.7 C1151.7,580.7 1152.7,574.0 1153.8,568.6 C1154.9,563.3 1155.9,557.9 1157.0,552.6 C1158.1,547.2 1159.2,541.9 1160.2,536.5 C1161.3,531.1 1162.4,525.8 1163.4,520.4 C1164.5,515.1 1165.6,509.7 1166.7,504.4 C1167.7,499.0 1168.8,493.7 1169.9,488.3 C1170.9,483.0 1172.0,477.6 1173.1,472.3 C1174.1,466.9 1175.2,461.6 1176.3,456.2 C1177.4,450.9 1178.2,445.5 1179.5,440.1 C1180.8,434.8 1182.4,428.6 1184.3,424.1 C1186.2,419.5 1188.3,417.3 1190.7,412.8 C1193.2,408.4 1196.0,404.2 1199.0,397.5 C1202.0,390.8 1206.1,378.8 1209.0,372.5 C1211.9,366.2 1214.0,362.9 1216.5,360.0 C1219.0,357.1 1221.5,357.9 1224.0,355.0 C1226.5,352.1 1229.0,345.4 1231.5,342.5 C1234.0,339.6 1236.9,336.2 1239.0,337.5 C1241.1,338.8 1242.3,345.4 1244.0,350.0 C1245.7,354.6 1247.3,361.2 1249.0,365.0 C1250.7,368.8 1252.3,372.5 1254.0,372.5 C1255.7,372.5 1256.9,367.9 1259.0,365.0 C1261.1,362.1 1264.0,357.5 1266.5,355.0 C1269.0,352.5 1271.5,351.2 1274.0,350.0 C1276.5,348.8 1279.0,348.8 1281.5,347.5 C1284.0,346.2 1286.9,343.8 1289.0,342.5 C1291.1,341.2 1292.3,338.8 1294.0,340.0 C1295.7,341.2 1297.3,345.8 1299.0,350.0 C1300.7,354.2 1302.3,358.3 1304.0,365.0 C1305.7,371.7 1307.8,383.3 1309.0,390.0 C1310.2,396.7 1310.2,405.8 1311.5,405.0 C1312.8,404.2 1314.8,391.7 1316.5,385.0 C1318.2,378.3 1319.4,371.7 1321.5,365.0 C1323.6,358.3 1326.1,351.2 1329.0,345.0 C1331.9,338.8 1335.7,331.7 1339.0,327.5 C1342.3,323.3 1345.2,321.2 1349.0,320.0 C1352.8,318.8 1357.5,320.4 1361.5,320.0 C1365.5,319.6 1369.3,310.8 1373.0,317.5 C1376.7,324.2 1380.7,348.4 1383.6,360.0 C1386.5,371.6 1388.1,378.1 1390.4,387.2 C1392.7,396.3 1394.9,405.3 1397.2,414.4 C1399.5,423.4 1401.7,433.0 1404.0,441.6 C1406.3,450.2 1408.5,460.1 1410.8,466.0 C1413.0,471.9 1414.9,476.0 1417.6,476.9 C1420.3,477.8 1424.2,474.0 1427.1,471.5 C1430.0,469.0 1432.5,466.9 1435.3,462.0 C1438.0,457.0 1441.1,447.2 1443.4,441.6 C1445.7,435.9 1446.8,431.4 1448.8,428.0 C1450.9,424.6 1452.9,422.1 1455.6,421.2 C1458.4,420.3 1462.2,422.5 1465.2,422.5 C1468.1,422.5 1470.6,422.5 1473.3,421.2 C1476.0,419.8 1479.0,417.8 1481.5,414.4 C1484.0,411.0 1485.8,405.3 1488.3,400.8 C1490.8,396.3 1493.7,390.4 1496.4,387.2 C1499.1,384.0 1501.9,382.0 1504.6,381.8 C1507.3,381.5 1510.2,382.7 1512.7,385.8 C1515.2,389.0 1517.5,394.9 1519.5,400.8 C1521.6,406.7 1523.2,415.3 1525.0,421.2 C1526.7,427.1 1528.3,433.8 1530.0,436.1 C1531.8,438.4 1532.9,436.0 1535.5,435.0 C1538.1,434.0 1542.2,431.7 1545.5,430.0 C1548.8,428.3 1551.8,427.1 1555.5,425.0 C1559.2,422.9 1564.2,418.3 1568.0,417.5 C1571.8,416.7 1574.7,418.8 1578.0,420.0 C1581.3,421.2 1585.5,423.8 1588.0,425.0 C1590.5,426.2 1590.9,428.8 1593.0,427.5 C1595.1,426.2 1597.6,421.2 1600.5,417.5 C1603.4,413.8 1607.6,407.9 1610.5,405.0 C1613.4,402.1 1615.1,400.4 1618.0,400.0 C1620.9,399.6 1624.7,401.7 1628.0,402.5 C1631.3,403.3 1635.1,404.2 1638.0,405.0 C1640.9,405.8 1642.6,406.7 1645.5,407.5 C1648.4,408.3 1652.2,409.2 1655.5,410.0 C1658.8,410.8 1662.6,411.2 1665.5,412.5 C1668.4,413.8 1670.9,417.9 1673.0,417.5 C1675.1,417.1 1676.3,414.6 1678.0,410.0 C1679.7,405.4 1681.3,397.5 1683.0,390.0 C1684.7,382.5 1686.3,373.3 1688.0,365.0 C1689.7,356.7 1691.3,346.7 1693.0,340.0 C1694.7,333.3 1695.9,330.0 1698.0,325.0 C1700.1,320.0 1702.6,314.2 1705.5,310.0 C1708.4,305.8 1712.6,302.9 1715.5,300.0 C1718.4,297.1 1720.5,295.4 1723.0,292.5 C1725.5,289.6 1728.0,286.2 1730.5,282.5 C1733.0,278.8 1735.1,273.8 1738.0,270.0 C1740.9,266.2 1744.7,263.3 1748.0,260.0 C1751.3,256.7 1754.7,253.3 1758.0,250.0 C1761.3,246.7 1764.7,242.1 1768.0,240.0 C1771.3,237.9 1774.7,237.9 1778.0,237.5 C1781.3,237.1 1784.7,238.8 1788.0,237.5 C1791.3,236.2 1794.7,232.9 1798.0,230.0 C1801.3,227.1 1804.7,222.9 1808.0,220.0 C1811.3,217.1 1814.2,214.6 1818.0,212.5 C1821.8,210.4 1826.8,210.0 1830.5,207.5 C1834.2,205.0 1837.2,200.4 1840.5,197.5 C1843.8,194.6 1847.2,191.7 1850.5,190.0 C1853.8,188.3 1857.2,188.3 1860.5,187.5 C1863.8,186.7 1867.2,186.2 1870.5,185.0 C1873.8,183.8 1877.6,182.5 1880.5,180.0 C1883.4,177.5 1885.1,173.3 1888.0,170.0 C1890.9,166.7 1894.7,162.1 1898.0,160.0 C1901.3,157.9 1904.7,158.3 1908.0,157.5 C1911.3,156.7 1914.7,155.8 1918.0,155.0 C1921.3,154.2 1924.7,153.8 1928.0,152.5 C1931.3,151.2 1934.8,148.8 1938.0,147.5 C1941.2,146.2 1945.1,144.3 1947.0,145.0 C1948.9,145.7 1947.9,150.9 1949.7,151.5 C1951.4,152.2 1955.1,149.1 1957.5,148.9 C1959.9,148.7 1961.8,148.7 1964.0,150.2 C1966.2,151.7 1968.2,156.1 1970.6,158.1 C1973.0,160.0 1975.8,161.1 1978.4,162.0 C1981.0,162.8 1984.1,163.3 1986.2,163.3 C1988.4,163.3 1989.3,163.7 1991.5,162.0 C1993.6,160.2 1996.7,155.9 1999.3,152.8 C2001.9,149.8 2004.5,146.7 2007.1,143.7 C2009.8,140.6 2012.8,136.7 2015.0,134.5 C2017.2,132.4 2018.0,131.0 2020.2,130.6 C2022.4,130.2 2025.9,131.7 2028.1,131.9 C2030.2,132.1 2031.1,131.3 2033.3,131.9 C2035.5,132.6 2038.5,134.5 2041.1,135.8 C2043.7,137.1 2046.3,138.5 2049.0,139.8 C2051.6,141.1 2054.2,142.8 2056.8,143.7 C2059.4,144.6 2062.0,144.8 2064.6,145.0 C2067.3,145.2 2069.9,145.6 2072.5,145.0 C2075.1,144.3 2077.7,142.6 2080.3,141.1 C2082.9,139.5 2085.5,137.1 2088.2,135.8 C2090.8,134.5 2093.4,134.8 2096.0,133.2 C2098.6,131.7 2101.2,129.3 2103.8,126.7 C2106.5,124.1 2109.1,120.6 2111.7,117.5 C2114.3,114.5 2116.9,111.2 2119.5,108.4 C2122.1,105.6 2125.2,102.3 2127.4,100.6 C2129.5,98.8 2130.8,98.6 2132.6,97.9 C2134.3,97.3 2136.1,97.5 2137.8,96.6 C2139.6,95.8 2141.3,94.2 2143.0,92.7 C2144.8,91.2 2146.5,89.2 2148.3,87.5 C2150.0,85.8 2151.3,84.0 2153.5,82.3 C2155.7,80.5 2158.3,78.6 2161.3,77.0 C2164.4,75.5 2168.3,74.4 2171.8,73.1 C2175.3,71.8 2178.8,70.3 2182.2,69.2 C2185.7,68.1 2189.7,67.5 2192.7,66.6 C2195.7,65.7 2197.5,64.5 2200.0,64.0 C2202.5,63.5 2206.1,63.8 2207.8,63.7 C2209.4,63.7 2209.4,63.7 2209.7,63.7" stroke="#008000"/>
<path d="M225.0,63.8 C227.1,64.0 233.3,64.4 237.5,65.0 C241.7,65.6 246.7,67.5 250.0,67.5 C253.3,67.5 255.4,66.2 257.5,65.0 C259.6,63.8 255.4,60.4 262.5,60.0 C269.6,59.6 285.4,61.9 300.0,62.5 C314.6,63.1 329.2,64.2 350.0,63.8 C370.8,63.3 404.2,61.5 425.0,60.0 C445.8,58.5 463.8,56.6 475.0,55.0 C486.2,53.4 487.4,51.5 492.4,50.5 C497.3,49.5 499.8,49.6 504.7,49.3 C509.6,49.0 517.5,48.2 522.0,48.6 C526.5,49.1 529.0,50.5 531.9,51.7 C534.8,53.0 537.2,53.9 539.3,56.1 C541.4,58.2 542.8,61.4 544.2,64.7 C545.7,68.0 546.8,72.1 547.9,75.8 C549.1,79.5 550.1,84.3 551.0,86.9 C552.0,89.6 552.6,91.9 553.5,91.9 C554.4,91.9 555.5,89.6 556.6,86.9 C557.7,84.3 558.9,79.7 560.3,75.8 C561.7,71.9 563.8,67.0 565.2,63.5 C566.7,60.0 567.1,57.1 568.9,54.8 C570.8,52.6 573.9,51.2 576.4,49.9 C578.8,48.5 581.3,47.2 583.8,46.8 C586.2,46.4 588.7,46.5 591.2,47.4 C593.7,48.3 596.5,50.7 598.6,52.4 C600.7,54.0 601.9,55.4 603.5,57.3 C605.2,59.1 606.8,61.4 608.5,63.5 C610.1,65.5 611.8,67.0 613.4,69.6 C615.1,72.3 616.9,76.0 618.4,79.5 C619.8,83.0 621.0,86.5 622.1,90.6 C623.1,94.8 623.8,99.3 624.5,104.2 C625.3,109.2 625.9,114.5 626.4,120.3 C626.9,126.1 627.2,132.6 627.6,138.8 C628.0,145.0 628.4,150.2 628.9,157.4 C629.3,164.6 629.7,173.8 630.1,182.1 C630.5,190.3 630.9,197.1 631.3,206.8 C631.7,216.4 632.1,224.5 632.6,240.0 C633.0,255.5 633.6,278.3 634.0,300.0 C634.4,321.7 634.7,346.7 635.0,370.0 C635.3,393.3 636.0,415.8 636.0,440.0 C636.0,464.2 634.8,490.0 635.0,515.0 C635.2,540.0 636.7,565.0 637.5,590.0 C638.3,615.0 639.2,640.0 640.0,665.0 C640.8,690.0 641.5,715.0 642.5,740.0 C643.5,765.0 645.3,790.9 646.2,815.0 C647.2,839.1 647.0,865.8 648.0,884.8 C648.9,903.8 650.6,916.4 651.9,928.9 C653.2,941.4 654.4,960.9 655.7,960.0 C657.0,959.1 658.6,938.4 659.6,923.7 C660.7,909.0 661.6,889.1 662.2,871.9 C662.9,854.6 663.3,837.8 663.5,820.0 C663.8,802.2 663.3,786.7 663.8,765.0 C664.2,743.3 665.4,715.0 666.2,690.0 C667.1,665.0 667.7,640.0 668.8,615.0 C669.8,590.0 671.0,560.8 672.5,540.0 C674.0,519.2 675.8,506.7 677.5,490.0 C679.2,473.3 680.8,465.0 682.5,440.0 C684.2,415.0 685.4,365.0 687.5,340.0 C689.6,315.0 692.5,304.6 695.0,290.0 C697.5,275.4 700.0,262.9 702.5,252.5 C705.0,242.1 707.1,234.6 710.0,227.5 C712.9,220.4 715.8,217.9 720.0,210.0 C724.2,202.1 730.0,188.8 735.0,180.0 C740.0,171.2 745.4,163.3 750.0,157.5 C754.6,151.7 758.3,148.3 762.5,145.0 C766.7,141.7 770.8,139.4 775.0,137.5 C779.2,135.6 783.5,132.5 787.5,133.8 C791.5,135.0 795.2,140.6 799.0,145.0 C802.8,149.4 806.1,160.0 810.2,160.0 C814.4,160.0 819.2,151.2 824.0,145.0 C828.8,138.8 834.0,128.8 839.0,122.5 C844.0,116.2 848.6,112.9 854.0,107.5 C859.4,102.1 866.1,93.8 871.5,90.0 C876.9,86.2 881.9,86.7 886.5,85.0 C891.1,83.3 895.2,82.1 899.0,80.0 C902.8,77.9 905.7,74.4 909.0,72.5 C912.3,70.6 915.2,68.8 919.0,68.8 C922.8,68.8 927.3,70.0 931.5,72.5 C935.7,75.0 941.1,80.0 944.0,83.8 C946.9,87.5 946.5,94.4 949.0,95.0 C951.5,95.6 956.5,88.3 959.0,87.5 C961.5,86.7 961.9,87.1 964.0,90.0 C966.1,92.9 969.8,98.8 971.5,105.0 C973.2,111.2 973.0,117.5 974.0,127.5 C975.0,137.5 976.5,154.6 977.8,165.0 C979.0,175.4 980.2,183.8 981.5,190.0 C982.8,196.2 984.0,202.5 985.2,202.5 C986.5,202.5 987.5,195.4 989.0,190.0 C990.5,184.6 992.3,174.6 994.0,170.0 C995.7,165.4 997.3,162.5 999.0,162.5 C1000.7,162.5 1001.9,166.2 1004.0,170.0 C1006.1,173.8 1009.0,181.7 1011.5,185.0 C1014.0,188.3 1016.9,185.8 1019.0,190.0 C1021.1,194.2 1021.5,204.6 1024.0,210.0 C1026.5,215.4 1031.1,220.8 1034.0,222.5 C1036.9,224.2 1039.0,221.7 1041.5,220.0 C1044.0,218.3 1046.5,216.7 1049.0,212.5 C1051.5,208.3 1054.0,200.4 1056.5,195.0 C1059.0,189.6 1061.1,185.4 1064.0,180.0 C1066.9,174.6 1070.2,167.9 1074.0,162.5 C1077.8,157.1 1082.3,150.8 1086.5,147.5 C1090.7,144.2 1095.7,141.7 1099.0,142.5 C1102.3,143.3 1104.4,146.7 1106.5,152.5 C1108.6,158.3 1109.8,167.1 1111.5,177.5 C1113.2,187.9 1114.8,202.5 1116.5,215.0 C1118.2,227.5 1119.8,237.9 1121.5,252.5 C1123.2,267.1 1124.8,285.8 1126.5,302.5 C1128.2,319.2 1129.8,335.8 1131.5,352.5 C1133.2,369.2 1135.2,387.1 1136.5,402.5 C1137.8,417.9 1138.3,435.2 1139.3,445.0 C1140.4,454.7 1141.5,460.5 1142.6,461.0 C1143.6,461.6 1144.7,453.5 1145.8,448.2 C1146.8,442.8 1148.4,438.6 1149.0,428.9 C1149.5,419.2 1148.2,404.8 1149.0,390.0 C1149.8,375.2 1152.3,356.7 1154.0,340.0 C1155.7,323.3 1157.3,304.6 1159.0,290.0 C1160.7,275.4 1162.3,261.7 1164.0,252.5 C1165.7,243.3 1166.9,240.4 1169.0,235.0 C1171.1,229.6 1173.6,224.6 1176.5,220.0 C1179.4,215.4 1182.8,212.1 1186.5,207.5 C1190.2,202.9 1194.8,197.9 1199.0,192.5 C1203.2,187.1 1207.3,179.6 1211.5,175.0 C1215.7,170.4 1220.2,167.5 1224.0,165.0 C1227.8,162.5 1231.1,163.3 1234.0,160.0 C1236.9,156.7 1239.0,147.9 1241.5,145.0 C1244.0,142.1 1245.7,143.1 1249.0,142.5 C1252.3,141.9 1257.3,140.0 1261.5,141.2 C1265.7,142.5 1270.7,149.0 1274.0,150.0 C1277.3,151.0 1278.6,150.4 1281.5,147.5 C1284.4,144.6 1287.3,136.7 1291.5,132.5 C1295.7,128.3 1302.3,126.7 1306.5,122.5 C1310.7,118.3 1312.8,111.7 1316.5,107.5 C1320.2,103.3 1324.4,98.5 1329.0,97.5 C1333.6,96.5 1339.4,101.2 1344.0,101.2 C1348.6,101.2 1352.8,97.3 1356.5,97.5 C1360.2,97.7 1362.9,98.3 1366.5,102.5 C1370.1,106.7 1375.2,114.2 1378.0,122.5 C1380.8,130.8 1381.3,141.2 1383.0,152.5 C1384.7,163.8 1386.3,177.5 1388.0,190.0 C1389.7,202.5 1391.3,215.0 1393.0,227.5 C1394.7,240.0 1396.3,252.5 1398.0,265.0 C1399.7,277.5 1401.3,291.2 1403.0,302.5 C1404.7,313.8 1406.8,327.1 1408.0,332.5 C1409.2,337.9 1409.5,337.1 1410.5,335.0 C1411.5,332.9 1412.8,327.5 1414.2,320.0 C1415.7,312.5 1417.6,301.2 1419.2,290.0 C1420.9,278.8 1422.6,265.0 1424.2,252.5 C1425.9,240.0 1427.4,226.2 1429.2,215.0 C1431.1,203.8 1433.4,192.5 1435.5,185.0 C1437.6,177.5 1439.7,173.3 1441.8,170.0 C1443.8,166.7 1446.1,164.2 1448.0,165.0 C1449.9,165.8 1451.3,168.8 1453.0,175.0 C1454.7,181.2 1456.3,193.8 1458.0,202.5 C1459.7,211.2 1461.3,220.4 1463.0,227.5 C1464.7,234.6 1466.3,243.8 1468.0,245.0 C1469.7,246.2 1471.3,240.0 1473.0,235.0 C1474.7,230.0 1476.1,222.5 1478.0,215.0 C1479.9,207.5 1482.2,198.3 1484.2,190.0 C1486.3,181.7 1488.4,172.5 1490.5,165.0 C1492.6,157.5 1494.7,150.4 1496.8,145.0 C1498.8,139.6 1500.3,136.2 1503.0,132.5 C1505.7,128.8 1509.7,125.8 1513.0,122.5 C1516.3,119.2 1519.2,115.4 1523.0,112.5 C1526.8,109.6 1531.3,107.1 1535.5,105.0 C1539.7,102.9 1543.8,101.2 1548.0,100.0 C1552.2,98.8 1556.8,97.1 1560.5,97.5 C1564.2,97.9 1567.6,99.6 1570.5,102.5 C1573.4,105.4 1575.5,110.8 1578.0,115.0 C1580.5,119.2 1583.0,123.3 1585.5,127.5 C1588.0,131.7 1590.9,137.1 1593.0,140.0 C1595.1,142.9 1595.9,145.4 1598.0,145.0 C1600.1,144.6 1603.0,140.8 1605.5,137.5 C1608.0,134.2 1610.5,128.3 1613.0,125.0 C1615.5,121.7 1618.0,119.4 1620.5,117.5 C1623.0,115.6 1625.1,113.8 1628.0,113.8 C1630.9,113.8 1634.7,116.5 1638.0,117.5 C1641.3,118.5 1645.1,120.0 1648.0,120.0 C1650.9,120.0 1653.0,118.8 1655.5,117.5 C1658.0,116.2 1660.5,112.9 1663.0,112.5 C1665.5,112.1 1668.0,113.3 1670.5,115.0 C1673.0,116.7 1675.5,122.9 1678.0,122.5 C1680.5,122.1 1683.0,116.2 1685.5,112.5 C1688.0,108.8 1690.5,102.9 1693.0,100.0 C1695.5,97.1 1698.0,94.2 1700.5,95.0 C1703.0,95.8 1705.5,102.1 1708.0,105.0 C1710.5,107.9 1713.0,110.8 1715.5,112.5 C1718.0,114.2 1720.5,114.0 1723.0,115.0 C1725.5,116.0 1728.0,119.2 1730.5,118.8 C1733.0,118.3 1735.5,115.2 1738.0,112.5 C1740.5,109.8 1743.0,105.8 1745.5,102.5 C1748.0,99.2 1750.1,93.8 1753.0,92.5 C1755.9,91.2 1760.1,95.0 1763.0,95.0 C1765.9,95.0 1768.0,91.7 1770.5,92.5 C1773.0,93.3 1775.5,97.9 1778.0,100.0 C1780.5,102.1 1783.0,105.0 1785.5,105.0 C1788.0,105.0 1790.5,102.9 1793.0,100.0 C1795.5,97.1 1797.6,91.7 1800.5,87.5 C1803.4,83.3 1806.8,77.5 1810.5,75.0 C1814.2,72.5 1818.8,72.1 1823.0,72.5 C1827.2,72.9 1831.3,77.1 1835.5,77.5 C1839.7,77.9 1844.7,75.8 1848.0,75.0 C1851.3,74.2 1853.4,71.7 1855.5,72.5 C1857.6,73.3 1858.4,78.8 1860.5,80.0 C1862.6,81.2 1865.5,78.8 1868.0,80.0 C1870.5,81.2 1873.0,85.8 1875.5,87.5 C1878.0,89.2 1880.9,91.2 1883.0,90.0 C1885.1,88.8 1885.9,82.9 1888.0,80.0 C1890.1,77.1 1892.6,73.8 1895.5,72.5 C1898.4,71.2 1902.6,71.7 1905.5,72.5 C1908.4,73.3 1910.5,75.0 1913.0,77.5 C1915.5,80.0 1918.0,84.6 1920.5,87.5 C1923.0,90.4 1925.9,92.1 1928.0,95.0 C1930.1,97.9 1931.3,100.4 1933.0,105.0 C1934.7,109.6 1936.3,118.3 1938.0,122.5 C1939.7,126.7 1941.3,130.2 1943.0,130.0 C1944.7,129.8 1946.8,126.2 1948.3,121.5 C1949.9,116.8 1951.2,107.7 1952.3,101.9 C1953.4,96.0 1953.8,90.3 1954.9,86.2 C1956.0,82.0 1957.5,78.8 1958.8,77.0 C1960.1,75.3 1961.4,74.2 1962.7,75.7 C1964.0,77.3 1965.3,82.5 1966.6,86.2 C1967.9,89.9 1969.0,96.9 1970.6,97.9 C1972.1,99.0 1974.0,95.6 1975.8,92.7 C1977.5,89.9 1978.8,84.2 1981.0,81.0 C1983.2,77.7 1986.2,74.6 1988.9,73.1 C1991.5,71.6 1994.1,72.0 1996.7,71.8 C1999.3,71.6 2001.9,72.0 2004.5,71.8 C2007.1,71.6 2009.8,71.2 2012.4,70.5 C2015.0,69.9 2017.6,68.8 2020.2,67.9 C2022.8,67.0 2025.4,65.7 2028.1,65.3 C2030.7,64.8 2033.5,65.3 2035.9,65.3 C2038.3,65.3 2040.3,64.6 2042.4,65.3 C2044.6,65.9 2046.6,67.0 2049.0,69.2 C2051.4,71.4 2054.6,76.4 2056.8,78.3 C2059.0,80.3 2060.1,81.0 2062.0,81.0 C2064.0,81.0 2066.4,79.2 2068.6,78.3 C2070.7,77.5 2072.7,75.1 2075.1,75.7 C2077.5,76.4 2080.5,79.9 2082.9,82.3 C2085.3,84.7 2087.3,87.9 2089.5,90.1 C2091.6,92.3 2093.6,94.2 2096.0,95.3 C2098.4,96.4 2101.7,95.8 2103.8,96.6 C2106.0,97.5 2107.3,99.3 2109.1,100.6 C2110.8,101.9 2112.6,105.4 2114.3,104.5 C2116.0,103.6 2117.8,98.6 2119.5,95.3 C2121.3,92.1 2123.0,88.4 2124.7,84.9 C2126.5,81.4 2128.2,76.4 2130.0,74.4 C2131.7,72.5 2133.7,71.8 2135.2,73.1 C2136.7,74.4 2138.0,77.5 2139.1,82.3 C2140.2,87.1 2140.9,95.3 2141.7,101.9 C2142.6,108.4 2143.5,115.4 2144.3,121.5 C2145.2,127.6 2146.1,137.4 2147.0,138.5 C2147.8,139.5 2148.7,133.0 2149.6,128.0 C2150.4,123.0 2151.3,114.9 2152.2,108.4 C2153.1,101.9 2153.7,94.2 2154.8,88.8 C2155.9,83.4 2157.0,78.8 2158.7,75.7 C2160.5,72.7 2163.1,72.2 2165.3,70.5 C2167.4,68.8 2169.6,67.2 2171.8,65.3 C2174.0,63.3 2176.1,60.7 2178.3,58.7 C2180.5,56.8 2182.5,55.3 2184.9,53.5 C2187.3,51.8 2190.2,49.6 2192.7,48.3 C2195.2,47.0 2198.2,46.1 2200.0,45.7 C2201.9,45.2 2202.2,45.7 2203.8,45.7 C2205.5,45.7 2208.7,45.7 2209.7,45.7" stroke="#00ff00"/>
<path d="M225.0,128.8 L243.8,140.0 M264.5,124.3 L281.3,124.3 M309.5,127.5 L329.5,124.5 M357.5,123.3 L378.2,121.0 M403.5,117.1 L426.5,113.8 M453.5,109.5 L478.2,108.5 M507.2,119.1 L520.7,132.6 M541.5,163.7 L553.2,178.1 M573.1,208.6 L583.3,227.1 M591.8,266.0 L594.5,284.0 M598.2,324.7 L601.8,344.1 M604.3,383.5 L607.0,401.5 M611.8,441.0 L614.5,459.0 M619.6,499.6 L624.1,516.6 M626.6,557.2 L628.4,576.5 M630.3,614.7 L632.2,634.0 M634.1,673.5 L635.9,691.5 M637.7,731.0 L638.6,750.3 M640.3,788.5 L642.2,809.0 M644.2,846.8 L645.2,865.8 M646.9,903.9 L647.8,922.8 M650.9,963.5 L652.9,982.5 M661.4,964.3 L663.1,948.0 M666.3,909.8 L667.2,893.5 M670.2,852.8 L671.1,833.9 M672.8,796.5 L674.7,778.5 M677.8,739.0 L679.7,718.5 M685.2,679.0 L686.1,661.0 M695.3,627.8 L707.2,618.4 M737.3,601.1 L750.2,586.4 M763.7,548.0 L771.3,528.3 M787.5,490.1 L800.5,477.4 M823.5,454.6 L835.0,437.9 M850.7,401.9 L862.3,380.6 M875.6,341.9 L884.9,323.1 M893.1,296.9 L902.4,278.1 M926.3,261.0 L932.7,276.6 M940.0,314.5 L941.0,334.5 M944.4,372.7 L946.5,392.7 M947.2,430.9 L949.0,450.0 L951.5,456.0 L954.0,450.0 L955.7,428.1 M958.4,391.3 L959.4,369.9 M962.1,333.1 L963.6,313.1 M968.8,277.0 L978.9,275.4 M993.7,307.3 L997.3,326.1 M1001.3,364.2 L1003.9,384.2 M1006.3,422.5 L1008.8,441.0 M1011.2,480.5 L1012.3,500.9 M1015.3,539.2 L1017.0,558.7 M1021.0,596.2 L1024.0,615.7 M1042.5,615.3 L1049.1,634.4 M1061.7,620.6 L1067.0,602.4 M1080.1,565.2 L1089.4,562.4 M1104.4,528.4 L1110.8,510.1 M1123.1,490.1 L1126.7,509.0 M1133.2,546.7 L1143.9,555.2 M1161.3,554.3 L1167.2,573.3 M1178.1,635.1 L1181.0,654.8 M1189.2,687.6 L1193.6,669.6 M1199.3,631.1 L1202.3,611.5 M1207.6,573.2 L1212.4,554.4 M1222.1,515.4 L1226.9,496.4 M1242.5,459.2 L1256.5,459.8 M1278.6,437.2 L1291.9,420.3 M1316.8,392.9 L1331.2,382.1 M1349.8,410.9 L1354.5,431.6 M1365.0,459.8 L1378.0,444.3 M1394.5,457.0 L1403.3,476.4 M1416.6,506.4 L1425.4,490.9 M1439.8,453.5 L1449.8,436.4 M1463.1,449.0 L1467.2,469.4 M1470.2,507.6 L1472.3,527.8 M1474.4,591.0 L1475.3,611.5 M1481.9,601.5 L1482.8,581.0 M1488.3,541.5 L1490.2,523.5 M1494.4,484.0 L1495.3,464.7 M1498.5,424.6 L1501.8,406.9 M1511.8,370.1 L1522.9,359.9 M1553.8,347.4 L1564.7,351.3 M1573.5,387.2 L1576.3,409.0 M1584.2,440.3 L1586.0,445.0 L1588.3,441.0 M1596.0,406.5 L1598.8,387.2 M1607.1,349.4 L1613.9,336.8 M1641.7,336.2 L1651.8,346.3 M1658.5,381.0 L1661.3,402.8 M1664.4,441.0 L1665.3,459.0 M1666.9,497.2 L1667.8,517.8 M1669.4,556.0 L1670.3,575.3 M1672.1,613.5 L1673.9,634.0 M1678.1,666.8 L1681.7,658.2 M1685.7,619.0 L1686.6,599.7 M1689.4,561.5 L1690.3,542.2 M1691.9,502.8 L1692.8,483.5 M1695.8,445.3 L1697.7,426.0 M1702.6,386.6 L1707.2,368.4 M1717.9,329.2 L1724.3,310.8 M1736.5,272.3 L1750.8,255.2 M1773.7,243.4 L1777.3,261.6 M1780.0,296.0 L1783.0,300.0 L1790.7,291.4 M1809.7,276.0 L1816.9,258.4 M1829.0,220.1 L1834.6,202.1 M1851.0,173.6 L1854.8,186.3 M1857.8,225.6 L1858.3,244.6 M1860.0,284.0 L1861.5,305.0 L1862.5,316.0 L1864.0,305.0 L1864.7,295.5 M1865.8,254.9 L1866.0,234.7 M1869.3,196.5 L1872.2,177.6 M1887.4,152.8 L1894.9,144.8 M1915.2,114.3 L1929.3,111.7 M1945.5,140.5 L1950.9,159.6 M1960.3,199.7 L1965.7,217.2 M1980.4,245.8 L1986.5,239.7 M2011.5,243.7 L2022.1,258.5 M2032.1,296.3 L2034.8,313.4 M2037.7,353.8 L2040.4,370.9 M2043.3,411.2 L2046.0,428.3 M2048.6,468.7 L2049.9,487.7 M2052.5,526.2 L2055.2,545.1 M2059.9,581.8 L2062.6,600.8 M2072.2,637.0 L2078.2,649.4 M2087.7,643.4 L2090.5,626.3 M2093.1,585.9 L2094.4,567.0 M2096.8,526.6 L2098.1,507.7 M2100.5,469.1 L2101.8,450.2 M2102.6,411.7 L2105.3,392.7 M2107.9,352.3 L2109.2,333.4 M2113.7,294.9 L2116.4,275.9 M2123.0,237.4 L2125.7,220.3 M2134.6,180.0 L2140.0,160.9 M2162.9,137.8 L2174.7,140.1 M2189.1,134.0 L2196.8,119.8" stroke="#8000ff" stroke-width="7" stroke-linecap="round"/>
</g>
<line x1="225" y1="42" x2="225" y2="1447" stroke="#000" stroke-width="6"/><line x1="222" y1="1444" x2="2429" y2="1444" stroke="#000" stroke-width="6"/><line x1="225.0" y1="1444" x2="225.0" y2="1472" stroke="#000" stroke-width="6"/><line x1="371.8" y1="1444" x2="371.8" y2="1459" stroke="#000" stroke-width="6"/><line x1="518.6" y1="1444" x2="518.6" y2="1472" stroke="#000" stroke-width="6"/><line x1="665.4" y1="1444" x2="665.4" y2="1459" stroke="#000" stroke-width="6"/><line x1="812.2" y1="1444" x2="812.2" y2="1472" stroke="#000" stroke-width="6"/><line x1="959.0" y1="1444" x2="959.0" y2="1459" stroke="#000" stroke-width="6"/><line x1="1105.8" y1="1444" x2="1105.8" y2="1472" stroke="#000" stroke-width="6"/><line x1="1252.6" y1="1444" x2="1252.6" y2="1459" stroke="#000" stroke-width="6"/><line x1="1399.4" y1="1444" x2="1399.4" y2="1472" stroke="#000" stroke-width="6"/><line x1="1546.2" y1="1444" x2="1546.2" y2="1459" stroke="#000" stroke-width="6"/><line x1="1693.0" y1="1444" x2="1693.0" y2="1472" stroke="#000" stroke-width="6"/><line x1="1839.8" y1="1444" x2="1839.8" y2="1459" stroke="#000" stroke-width="6"/><line x1="1986.6" y1="1444" x2="1986.6" y2="1472" stroke="#000" stroke-width="6"/><line x1="2133.4" y1="1444" x2="2133.4" y2="1459" stroke="#000" stroke-width="6"/><line x1="2280.2" y1="1444" x2="2280.2" y2="1472" stroke="#000" stroke-width="6"/><line x1="2427.0" y1="1444" x2="2427.0" y2="1459" stroke="#000" stroke-width="6"/>
<g class="tk"><text transform="translate(225.0,1555) scale(1,1.041)" text-anchor="middle">2000</text><text transform="translate(518.6,1555) scale(1,1.041)" text-anchor="middle">1800</text><text transform="translate(812.2,1555) scale(1,1.041)" text-anchor="middle">1600</text><text transform="translate(1105.8,1555) scale(1,1.041)" text-anchor="middle">1400</text><text transform="translate(1399.4,1555) scale(1,1.041)" text-anchor="middle">1200</text><text transform="translate(1693.0,1555) scale(1,1.041)" text-anchor="middle">1000</text><text transform="translate(1986.6,1555) scale(1,1.041)" text-anchor="middle">800</text><text transform="translate(2280.2,1555) scale(1,1.041)" text-anchor="middle">600</text></g>
<text class="ttl" transform="translate(120,762) rotate(-90) scale(1,1.01)" text-anchor="middle" letter-spacing="0.33">Transmittance (a.u)</text>
<text class="ttl" transform="translate(738,1695) scale(1,1.01)" letter-spacing="-2.15">Wavenumber (cm</text>
<text class="ttl" transform="translate(1786.8,1624) scale(1,1.041)" style="font-size:78px">&#8211;1</text>
<text class="ttl" transform="translate(1873,1695) scale(1,1.041)">)</text>
<rect x="1769.5" y="741.4" width="644.2" height="645.8" fill="none" stroke="#000" stroke-width="2.6"/><line x1="1802" y1="792.6" x2="1970" y2="792.6" stroke="#000000" stroke-width="8" stroke-linecap="round"/><text transform="translate(1991,818.7) scale(0.995,1.041)" class="lg">1.6 wt%</text><line x1="1802" y1="884.4" x2="1970" y2="884.4" stroke="#ff0000" stroke-width="8" stroke-linecap="round"/><text transform="translate(1991,910.5) scale(0.995,1.041)" class="lg">2.7 wt%</text><line x1="1802" y1="976.2" x2="1970" y2="976.2" stroke="#0000ff" stroke-width="8" stroke-linecap="round"/><text transform="translate(1991,1002.2) scale(0.995,1.041)" class="lg">4.3 wt%</text><line x1="1802" y1="1068.0" x2="1970" y2="1068.0" stroke="#ff00ff" stroke-width="8" stroke-linecap="round"/><text transform="translate(1991,1094.0) scale(0.995,1.041)" class="lg">5.5 wt%</text><line x1="1802" y1="1159.8" x2="1970" y2="1159.8" stroke="#008000" stroke-width="8" stroke-linecap="round"/><text transform="translate(1991,1185.7) scale(0.995,1.041)" class="lg">7.0 wt%</text><line x1="1802" y1="1251.6" x2="1970" y2="1251.6" stroke="#00ff00" stroke-width="8" stroke-linecap="round"/><text transform="translate(1991,1277.5) scale(0.995,1.041)" class="lg">PKFU-BISM</text><line x1="1802.9" y1="1343.4" x2="1970" y2="1343.4" stroke="#8000ff" stroke-width="8" stroke-linecap="round" stroke-dasharray="22.3 35.6"/><text transform="translate(1991,1369.2) scale(0.995,1.041)" class="lg">PKFU</text>
<text x="825.6" y="1161.4" textLength="112.4" lengthAdjust="spacingAndGlyphs" class="an">C-N</text><text x="754.6" y="1233.3" textLength="218.4" lengthAdjust="spacingAndGlyphs" class="an">1345 cm</text><text x="972.0" y="1215" textLength="34.0" lengthAdjust="spacingAndGlyphs" class="sup">-1</text><text x="1080.8" y="956.3" textLength="332.0" lengthAdjust="spacingAndGlyphs" class="an">C-O-C ether</text><text x="1086.0" y="1027.1" textLength="336.0" lengthAdjust="spacingAndGlyphs" class="an">(DA adduct)</text><text x="1127.0" y="1098.6" textLength="215.8" lengthAdjust="spacingAndGlyphs" class="an">1182 cm</text><text x="1344.2" y="1080.6" textLength="34.0" lengthAdjust="spacingAndGlyphs" class="sup">-1</text><text x="1499.8" y="779.7" textLength="180.0" lengthAdjust="spacingAndGlyphs" class="an">C-O-C</text><text x="1497.2" y="850.9" textLength="196.8" lengthAdjust="spacingAndGlyphs" class="an">(Furan)</text><text x="1462.0" y="922.7" textLength="217.2" lengthAdjust="spacingAndGlyphs" class="an">1073 cm</text><text x="1679.0" y="904.7" textLength="33.8" lengthAdjust="spacingAndGlyphs" class="sup">-1</text><text x="1718.6" y="447.3" textLength="238.6" lengthAdjust="spacingAndGlyphs" class="an">C-H out-</text><text x="1715.6" y="519" textLength="245.0" lengthAdjust="spacingAndGlyphs" class="an">of- plane</text><text x="1732.4" y="589.7" textLength="211.6" lengthAdjust="spacingAndGlyphs" class="an">(Furan )</text><text x="1728.6" y="662.3" textLength="185.6" lengthAdjust="spacingAndGlyphs" class="an">737 cm</text><text x="1915.0" y="644.3" textLength="32.0" lengthAdjust="spacingAndGlyphs" class="sup">-1</text>
<polygon points="934.6,1069.4 929.6,1036.2 933.7,1032.1 939.1,1034.5 940.6,1044.8 1091.4,698.1 1099.2,701.5 948.5,1048.2 957.1,1042.3 962.5,1044.7 962.3,1050.4" fill="#000"/><polygon points="1227.8,818.0 1225.1,784.5 1229.4,780.8 1234.7,783.5 1235.5,793.8 1356.6,560.2 1364.2,564.2 1243.1,797.8 1252.1,792.5 1257.3,795.2 1256.7,800.9" fill="#000"/><polygon points="1601.5,723.8 1593.9,691.1 1597.6,686.7 1603.2,688.6 1605.5,698.8 1641.5,593.8 1649.7,596.6 1613.7,701.5 1621.7,695.0 1627.3,696.9 1627.6,702.6" fill="#000"/><polygon points="1961.0,595.5 1989.5,577.7 1994.8,579.8 1994.8,585.7 1986.0,591.2 2052.0,591.2 2052.0,599.8 1986.0,599.8 1994.8,605.3 1994.8,611.2 1989.5,613.3" fill="#000"/>
</svg>
</body></html>
